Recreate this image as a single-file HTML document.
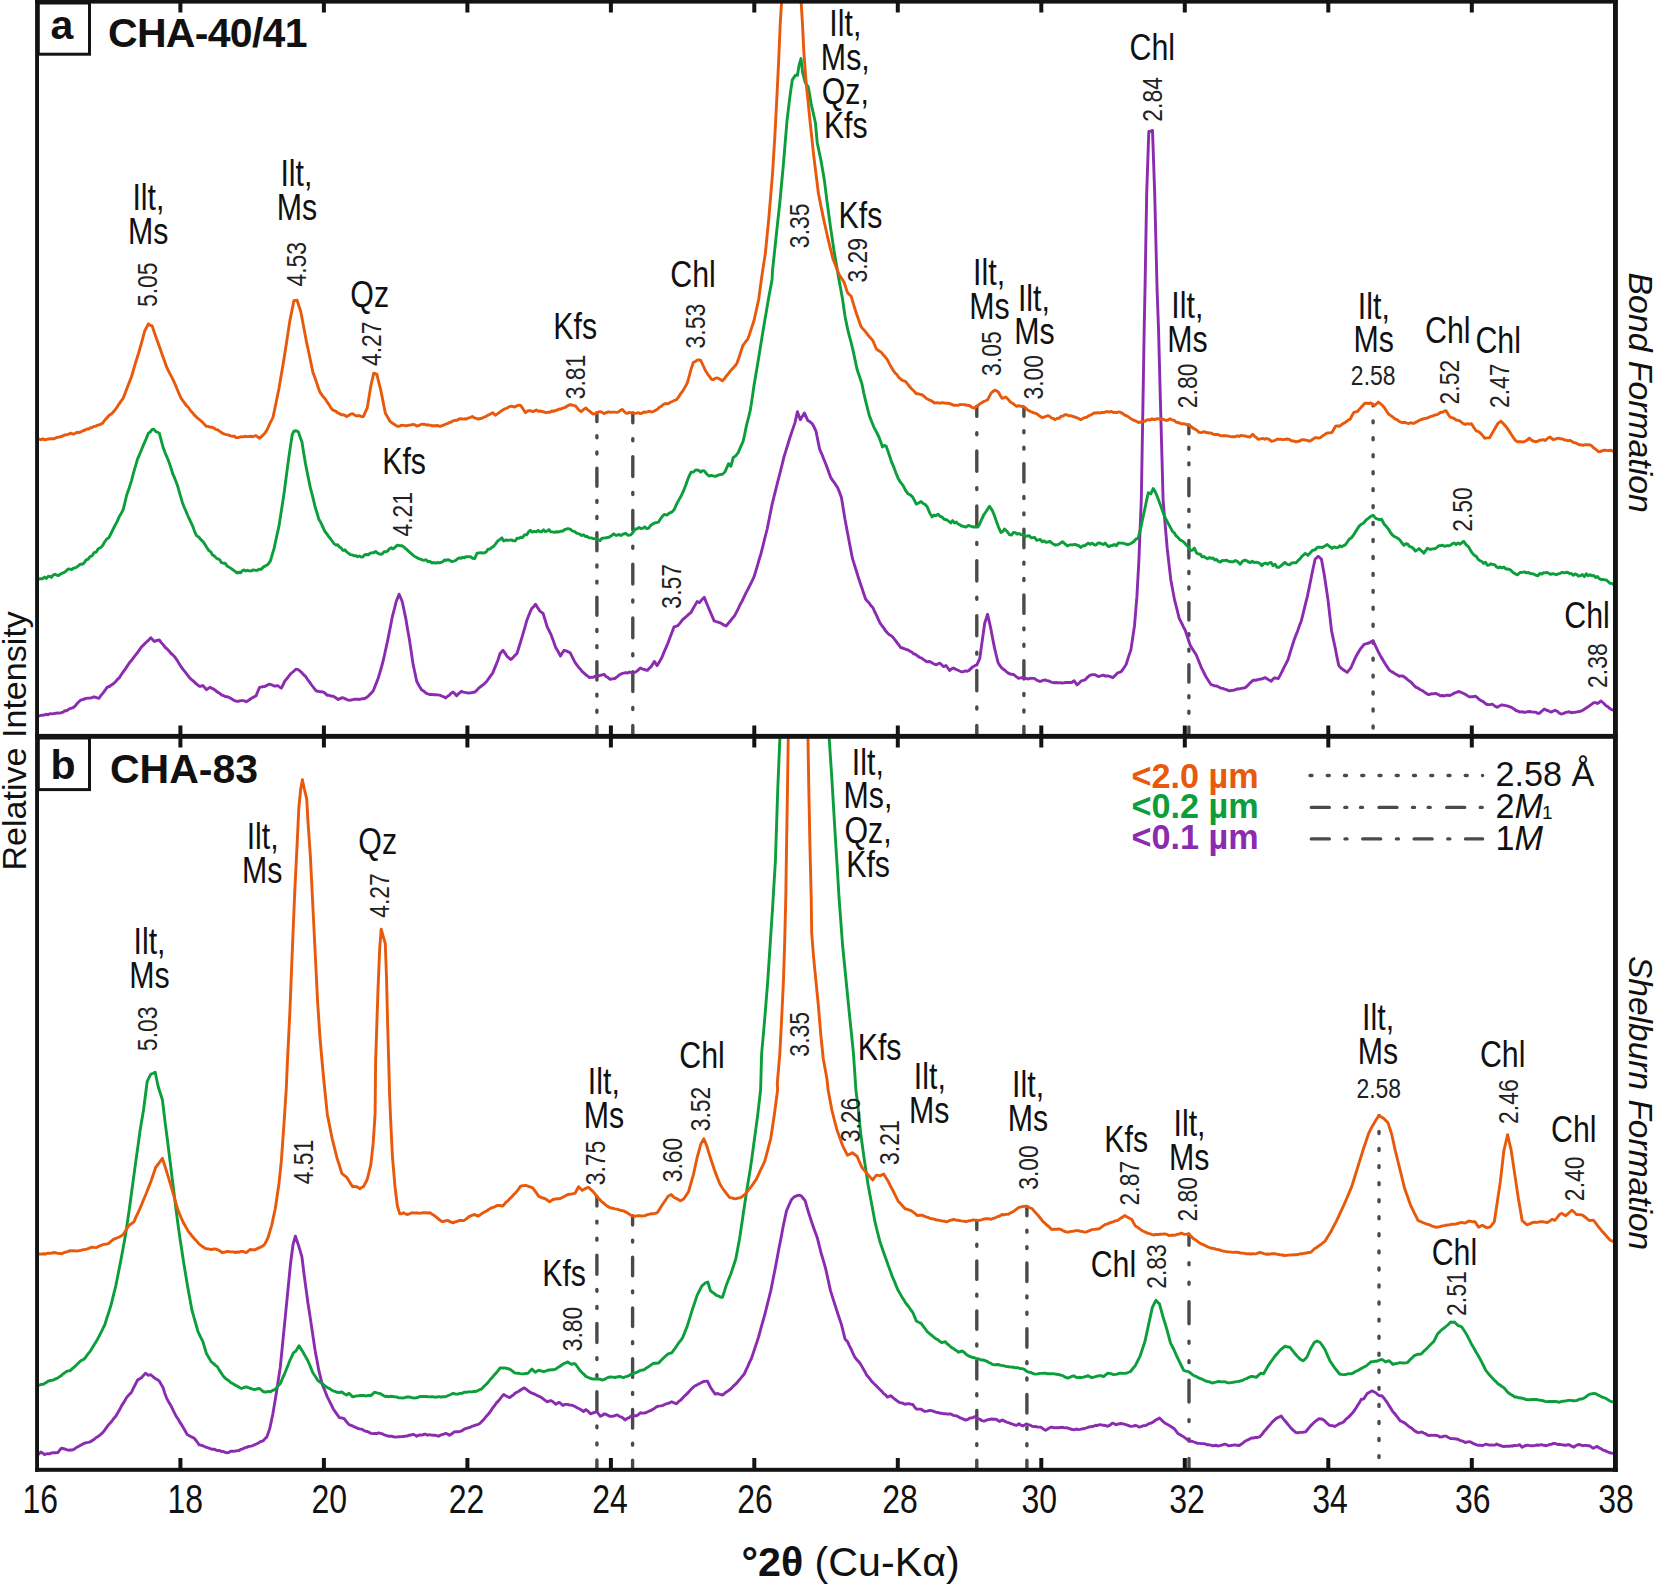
<!DOCTYPE html>
<html lang="en"><head><meta charset="utf-8"><title>XRD patterns CHA-40/41 and CHA-83</title>
<style>html,body{margin:0;padding:0;background:#fff}svg{display:block}text{font-family:"Liberation Sans",sans-serif;fill:#111}.n{font-size:37px}.d{font-size:28px;fill:#222}.t{font-size:41px}.c{fill:none;stroke-width:2.9;stroke-linejoin:round;stroke-linecap:round}.v{fill:none;stroke:#4a4a4a;stroke-width:3.4;stroke-linecap:round}</style></head><body>
<svg width="1655" height="1585" viewBox="0 0 1655 1585">
<rect x="0" y="0" width="1655" height="1585" fill="#fff"/>
<defs><clipPath id="pa"><rect x="37" y="0" width="1579" height="736.4"/></clipPath><clipPath id="pb"><rect x="37" y="736.4" width="1579" height="733.6"/></clipPath></defs>
<line class="v" x1="596.9" y1="412.6" x2="596.9" y2="735.5" stroke-dasharray="18.12 14.15 2.0 14.15 2.0 14.15" stroke-dashoffset="9.06"/>
<line class="v" x1="632.8" y1="412.9" x2="632.8" y2="735.5" stroke-dasharray="19.83 15.96 2.0 15.96" stroke-dashoffset="9.92"/>
<line class="v" x1="976.8" y1="406.3" x2="976.8" y2="735.5" stroke-dasharray="20.24 16.31 2.0 16.31" stroke-dashoffset="10.12"/>
<line class="v" x1="1023.9" y1="407.1" x2="1023.9" y2="735.5" stroke-dasharray="18.44 14.42 2.0 14.42 2.0 14.42" stroke-dashoffset="9.22"/>
<line class="v" x1="1188.9" y1="425.0" x2="1188.9" y2="735.5" stroke-dasharray="17.43 13.56 2.0 13.56 2.0 13.56" stroke-dashoffset="8.71"/>
<line class="v" x1="1373.1" y1="404.9" x2="1373.1" y2="735.5" stroke-dasharray="2 14.95" stroke-dashoffset="1.00"/>
<line class="v" x1="596.9" y1="1196.5" x2="596.9" y2="1469.5" stroke-dasharray="19.16 15.03 2.0 15.03 2.0 15.03" stroke-dashoffset="9.58"/>
<line class="v" x1="632.6" y1="1215.7" x2="632.6" y2="1469.5" stroke-dasharray="18.73 15.02 2.0 15.02" stroke-dashoffset="9.36"/>
<line class="v" x1="976.8" y1="1220.4" x2="976.8" y2="1469.5" stroke-dasharray="18.38 14.72 2.0 14.72" stroke-dashoffset="9.19"/>
<line class="v" x1="1026.9" y1="1206.5" x2="1026.9" y2="1469.5" stroke-dasharray="18.45 14.43 2.0 14.43 2.0 14.43" stroke-dashoffset="9.23"/>
<line class="v" x1="1189.0" y1="1234.3" x2="1189.0" y2="1469.5" stroke-dasharray="22.00 17.47 2.0 17.47 2.0 17.47" stroke-dashoffset="11.00"/>
<line class="v" x1="1379.0" y1="1115.4" x2="1379.0" y2="1469.5" stroke-dasharray="2 15.06" stroke-dashoffset="1.00"/>
<polyline class="c" clip-path="url(#pa)" stroke="#8a2bb0" points="37.3,716.8 39.7,715.7 42.1,715.2 44.0,715.1 46.0,714.2 47.9,714.8 49.8,713.8 51.8,713.9 53.7,713.6 55.6,713.3 57.6,712.9 59.5,713.1 61.4,712.7 63.1,712.1 64.9,710.8 66.6,710.7 68.3,709.6 70.1,708.6 71.8,708.2 73.5,707.4 75.3,705.8 77.1,703.5 78.9,701.8 80.8,700.0 82.6,699.6 84.4,699.0 86.2,698.4 88.0,698.1 90.0,698.1 92.0,697.6 94.0,696.8 96.5,697.7 98.9,698.3 101.0,695.4 103.1,692.9 105.2,690.1 107.3,687.2 109.4,686.5 111.4,684.9 113.4,683.7 115.4,681.9 117.4,679.5 119.4,677.6 121.2,674.8 123.1,672.0 124.9,669.7 126.7,666.9 128.5,664.2 130.3,661.7 132.1,659.7 133.9,657.1 135.7,654.8 137.6,652.5 139.4,649.9 141.2,647.3 143.6,644.9 146.0,642.5 148.4,640.4 150.8,637.7 152.7,639.7 154.5,641.5 156.9,640.4 159.3,640.0 161.3,642.6 163.3,644.9 165.3,647.5 167.3,649.1 169.2,651.2 171.1,653.5 173.1,655.1 175.0,657.2 177.0,660.1 179.0,663.4 181.1,666.7 183.2,669.6 185.3,672.2 187.4,674.9 189.5,677.7 191.5,679.6 193.4,681.0 195.3,683.0 197.3,684.6 199.2,686.2 201.0,686.2 202.8,685.5 204.6,687.5 206.4,689.7 208.2,688.4 210.1,687.3 212.1,688.4 214.1,689.4 216.1,691.0 217.9,692.4 219.7,693.3 221.5,694.8 223.4,695.6 225.2,696.6 227.0,696.7 228.8,697.3 230.6,698.3 233.0,699.7 235.4,701.1 237.3,701.3 239.1,701.2 240.9,700.6 242.7,700.6 244.5,700.9 246.3,701.8 248.3,700.6 250.3,699.0 252.4,697.8 254.2,696.7 256.0,695.9 257.8,691.5 259.6,687.4 262.0,686.8 264.4,686.6 266.9,685.4 269.3,684.1 271.7,684.8 274.1,686.0 275.9,686.0 277.7,685.6 279.5,686.9 281.4,688.1 283.2,684.5 285.0,680.7 287.0,678.5 289.0,675.9 291.0,673.5 293.4,671.5 295.9,669.2 297.7,669.4 299.5,670.6 301.5,672.3 303.5,674.6 305.5,676.4 307.5,679.3 309.6,682.1 311.6,685.0 314.0,688.2 316.4,691.0 318.2,691.3 320.0,691.7 321.8,691.7 323.7,692.3 325.5,693.6 327.3,695.4 329.3,695.2 331.3,696.1 333.3,696.3 335.7,697.7 338.2,699.5 340.0,698.6 341.8,697.7 343.6,698.0 345.4,698.8 347.2,699.8 349.0,700.2 350.8,700.1 352.7,699.6 354.5,699.3 356.3,699.3 358.1,699.1 359.9,699.5 361.7,698.7 363.5,698.8 366.0,697.8 368.4,696.1 370.8,693.5 373.2,691.0 375.6,684.9 378.0,678.8 380.5,670.5 382.9,662.0 385.3,651.2 387.7,640.2 390.1,628.2 392.5,616.0 394.4,608.8 396.2,601.5 399.1,594.2 402.2,601.5 404.0,610.1 405.8,618.4 407.6,629.4 409.5,640.1 411.3,652.2 413.1,664.4 414.9,672.8 416.7,681.2 419.1,685.7 421.5,689.7 424.0,691.3 426.4,693.3 428.2,694.0 430.0,694.7 431.9,694.3 433.9,694.8 435.8,694.8 437.7,694.9 439.7,695.1 441.7,696.0 443.7,696.8 445.7,697.9 447.5,696.4 449.3,695.2 451.1,693.2 453.0,692.1 454.8,693.7 456.6,695.8 459.0,693.3 461.4,691.3 463.2,692.1 465.0,692.4 466.9,692.9 468.7,693.0 470.7,692.9 472.7,692.3 474.7,692.2 476.7,690.4 478.7,688.1 480.8,686.5 482.8,685.0 484.8,683.3 486.8,681.3 488.8,678.4 490.8,675.6 492.8,672.9 495.3,666.6 497.7,660.7 500.1,653.5 503.0,650.3 505.2,653.4 507.3,656.7 509.2,658.2 511.0,659.5 513.0,657.6 515.0,655.3 517.0,653.5 519.4,645.7 521.8,637.8 524.3,629.4 526.7,620.8 529.1,614.6 531.5,608.8 533.6,606.7 535.6,604.3 537.8,607.9 540.0,611.2 543.1,613.5 545.2,620.2 547.2,626.9 549.0,630.5 550.8,634.1 553.3,640.8 555.7,647.5 558.1,651.5 560.5,656.0 562.3,652.9 564.1,650.3 566.2,650.9 568.2,651.9 570.2,652.8 572.6,657.6 575.0,662.3 576.8,664.8 578.6,667.2 580.5,669.4 582.3,671.6 584.1,673.2 585.9,674.8 587.7,676.1 589.5,677.6 591.3,677.3 593.1,677.4 595.0,676.3 596.8,676.4 598.6,675.9 600.4,675.3 602.2,674.8 604.0,674.3 606.0,676.4 608.0,677.6 610.1,679.4 612.5,678.8 614.9,678.5 617.3,676.6 619.7,674.6 621.7,673.7 623.8,673.2 625.8,672.7 627.7,673.0 629.6,672.0 631.6,672.7 633.5,672.6 635.4,672.2 637.9,670.3 640.3,668.0 642.1,668.8 643.9,669.4 645.7,670.0 647.5,670.4 649.3,668.3 651.1,666.7 654.3,661.4 657.2,665.6 659.6,661.5 662.0,657.2 664.0,652.1 666.1,647.4 668.1,642.7 670.1,637.2 672.1,632.0 674.1,626.9 675.9,626.3 677.7,625.7 680.2,622.9 682.6,619.6 684.7,617.8 686.8,616.1 688.9,614.1 691.0,612.5 693.0,608.8 695.1,605.1 697.1,601.6 699.5,602.6 701.9,599.7 704.3,597.2 706.1,602.0 707.9,606.3 710.0,611.2 712.0,615.9 714.0,620.8 716.0,621.5 718.0,622.2 720.0,622.8 722.0,623.8 724.1,625.2 726.1,626.0 728.2,623.5 730.3,621.0 732.4,618.3 734.5,615.9 736.5,612.1 738.4,608.4 740.3,604.2 742.3,600.7 744.2,596.6 746.1,592.6 748.1,589.0 750.0,585.1 751.9,581.4 753.9,577.2 755.7,571.4 757.5,565.3 759.3,559.0 761.1,553.2 763.1,545.1 765.1,537.0 767.2,529.0 769.6,516.7 772.0,504.8 774.0,496.7 776.0,488.7 778.0,480.6 780.1,472.6 782.1,464.6 784.1,456.4 786.1,450.1 788.1,443.5 790.1,437.0 792.5,429.9 795.0,422.6 797.4,411.7 800.3,419.7 802.4,416.3 804.4,412.9 807.6,420.2 810.0,421.8 812.4,423.9 814.2,427.3 816.0,431.1 817.8,440.1 819.6,449.1 821.7,453.8 823.7,459.0 825.7,463.7 828.1,470.2 830.5,477.0 832.3,480.0 834.1,482.3 836.0,485.2 837.8,487.9 839.6,492.6 841.4,497.5 843.2,508.3 845.0,519.3 846.8,528.9 848.6,538.6 850.5,548.4 852.3,557.9 854.3,564.4 856.3,570.8 858.3,577.3 860.1,582.8 861.9,588.0 863.7,593.5 865.6,599.0 867.4,601.3 869.2,603.0 871.0,605.7 872.8,607.5 874.6,611.5 876.4,615.2 878.2,619.2 880.1,623.1 881.9,625.6 883.7,627.9 885.5,630.7 887.3,632.8 889.3,634.8 891.3,635.8 893.4,637.8 895.2,640.1 897.0,642.7 898.8,644.7 900.6,647.5 902.4,648.0 904.2,648.6 906.0,649.6 907.9,649.8 909.8,651.2 911.7,652.0 913.7,653.8 915.6,654.4 917.5,656.0 919.5,657.3 921.4,658.0 923.3,659.4 925.3,660.7 927.2,661.9 929.1,661.5 930.9,662.1 932.7,663.3 934.5,664.2 936.3,664.8 938.2,663.7 940.0,663.2 941.8,665.0 943.6,666.6 946.0,665.5 947.8,668.0 949.6,670.5 951.5,668.8 953.3,668.0 955.4,669.1 957.5,670.0 959.6,671.0 961.7,671.9 963.5,671.6 965.3,670.9 967.2,671.2 969.0,670.4 970.8,668.6 972.6,666.9 974.8,665.7 976.9,664.9 979.8,658.3 982.3,640.2 984.7,623.2 987.6,614.3 990.7,628.1 992.5,637.7 994.4,647.4 996.2,655.0 998.0,662.4 999.8,665.4 1001.6,667.9 1003.4,669.2 1005.2,670.5 1007.0,672.2 1008.9,673.5 1011.3,674.3 1013.7,674.5 1016.1,676.6 1018.5,678.3 1020.9,677.8 1023.4,677.6 1025.8,678.3 1028.2,679.0 1030.2,678.3 1032.2,678.4 1034.2,678.4 1036.6,680.0 1039.1,681.3 1041.1,681.3 1043.1,680.3 1045.1,679.9 1046.9,680.6 1048.7,680.9 1050.5,681.8 1052.4,682.4 1054.3,682.7 1056.2,682.5 1058.2,682.9 1060.1,682.6 1062.0,683.0 1064.0,682.8 1065.9,682.5 1067.8,682.5 1069.8,682.5 1071.7,682.5 1074.1,680.7 1077.0,684.9 1079.2,683.1 1081.4,680.8 1083.2,680.4 1085.0,679.9 1087.4,677.3 1089.8,675.3 1092.2,674.6 1094.7,674.6 1096.5,675.5 1098.3,676.5 1100.7,675.9 1103.1,675.2 1105.5,676.0 1107.9,675.9 1110.4,676.7 1112.8,677.7 1115.2,675.4 1117.6,672.8 1119.4,672.3 1121.2,671.7 1123.7,668.2 1126.1,664.5 1128.5,656.9 1130.9,649.9 1132.7,637.7 1134.5,625.7 1136.9,596.7 1138.9,560.4 1140.3,524.2 1141.3,500.0 1143.0,400.8 1144.2,328.3 1145.2,280.0 1145.0,290.0 1146.7,193.4 1148.8,131.5 1150.7,131.3 1152.5,130.4 1154.7,193.4 1157.1,290.0 1158.5,328.3 1160.4,400.9 1162.4,473.4 1163.1,500.0 1164.7,519.3 1167.2,548.4 1169.0,564.1 1170.8,579.7 1172.6,589.4 1174.4,599.1 1176.8,608.6 1179.2,618.4 1181.3,622.4 1183.3,626.6 1185.3,630.5 1187.7,637.8 1190.1,645.0 1192.1,648.4 1194.1,651.6 1196.2,654.8 1198.6,660.7 1201.0,666.8 1203.4,671.7 1205.8,676.5 1208.2,680.3 1210.7,684.2 1212.7,685.2 1214.7,685.9 1216.7,686.0 1218.7,687.0 1220.7,688.1 1222.7,688.4 1224.6,689.1 1226.4,689.6 1228.2,690.5 1230.0,690.9 1231.8,690.4 1233.6,690.4 1235.4,689.6 1237.3,689.0 1239.4,688.8 1241.5,688.3 1243.6,688.1 1245.7,687.3 1247.5,685.7 1249.3,683.7 1251.1,682.2 1253.0,680.2 1255.0,680.2 1257.0,680.0 1259.0,679.3 1261.0,679.1 1263.0,678.5 1265.0,677.6 1267.1,678.7 1269.1,680.1 1271.1,681.2 1272.9,679.2 1274.7,677.8 1276.5,678.2 1278.3,678.5 1280.2,675.1 1282.0,671.6 1284.0,667.4 1286.0,663.6 1288.0,659.6 1290.0,653.0 1292.0,646.6 1294.0,640.2 1295.9,635.2 1297.7,630.7 1299.5,625.6 1301.3,620.9 1303.3,612.9 1305.3,604.7 1307.3,596.6 1309.8,584.7 1312.2,572.5 1315.1,559.2 1318.2,556.2 1321.4,559.1 1324.3,574.9 1326.1,587.0 1327.9,599.1 1329.7,614.7 1331.5,630.5 1333.3,639.1 1335.1,647.4 1336.9,656.6 1338.8,665.6 1340.6,667.6 1342.4,669.2 1344.8,670.8 1347.2,672.4 1349.0,670.1 1350.8,668.0 1353.3,662.4 1355.7,657.0 1358.1,652.8 1360.5,648.7 1362.3,646.7 1364.1,644.4 1366.6,643.7 1369.0,643.0 1371.0,641.8 1373.1,640.8 1376.2,647.4 1378.6,652.4 1381.1,657.1 1383.2,660.4 1385.3,664.0 1387.4,667.1 1389.5,670.3 1391.5,671.6 1393.4,672.6 1395.3,673.9 1397.3,675.1 1399.2,676.3 1401.0,675.9 1402.8,676.0 1404.6,677.2 1406.4,678.5 1408.2,680.2 1410.1,681.4 1412.1,683.3 1414.1,685.6 1416.1,687.4 1417.9,688.0 1419.7,689.4 1421.5,690.2 1423.4,691.3 1425.8,693.1 1428.2,694.6 1430.0,694.3 1431.8,693.6 1433.6,693.9 1435.4,693.3 1437.9,694.3 1440.3,695.7 1442.2,695.5 1444.1,696.0 1446.1,695.3 1448.0,695.2 1449.9,695.5 1452.4,694.3 1454.8,692.8 1456.6,692.4 1458.4,691.5 1460.8,692.2 1463.2,693.3 1465.2,694.2 1467.3,695.6 1469.3,696.9 1471.3,696.7 1473.3,696.7 1475.3,696.1 1477.3,697.7 1479.3,699.5 1481.4,700.7 1483.8,702.1 1486.2,704.3 1488.2,704.5 1490.2,704.6 1492.2,704.1 1494.7,705.9 1497.1,707.3 1499.5,706.0 1501.9,704.8 1503.9,705.3 1505.9,705.6 1507.9,706.1 1510.0,706.9 1512.0,707.7 1514.0,708.9 1516.0,710.5 1518.0,711.1 1520.0,712.1 1522.0,711.7 1523.9,712.3 1525.8,712.2 1527.8,711.7 1529.7,711.5 1531.6,711.9 1533.6,712.1 1535.5,712.1 1537.4,713.2 1539.4,713.3 1541.8,711.2 1544.2,709.0 1546.0,710.0 1547.8,710.6 1549.6,711.6 1551.5,712.1 1553.3,711.0 1555.1,710.3 1557.1,711.2 1559.1,713.0 1561.1,714.0 1563.1,713.6 1565.1,712.6 1567.2,712.1 1569.3,711.8 1571.4,712.7 1573.5,712.4 1575.6,712.2 1577.4,711.8 1579.2,711.6 1581.1,711.0 1582.9,710.2 1584.7,708.9 1586.5,707.8 1588.3,706.7 1590.1,705.3 1591.9,704.1 1593.7,702.6 1595.6,702.6 1597.4,703.5 1599.2,702.4 1601.0,701.0 1603.4,703.0 1605.8,705.5 1607.8,706.7 1609.9,708.6 1611.9,709.8 1613.9,710.1 1616.0,710.8"/>
<polyline class="c" clip-path="url(#pa)" stroke="#0b9e3a" points="37.3,580.4 39.1,578.8 40.9,578.6 42.7,578.7 44.5,577.1 46.2,578.4 48.0,576.5 49.7,576.3 51.4,577.4 53.1,575.1 54.9,574.2 56.6,575.0 58.5,575.6 60.5,574.0 62.4,573.1 64.3,572.4 66.3,570.8 68.1,568.9 69.9,569.1 71.7,569.5 73.5,568.2 75.9,567.6 78.3,565.9 80.3,564.2 82.2,564.3 84.1,563.0 86.1,559.8 88.0,559.3 90.0,556.6 92.0,555.9 94.0,552.7 96.2,552.1 98.3,548.7 100.4,547.7 102.5,545.7 104.6,542.0 106.7,539.2 108.9,537.6 111.0,533.5 113.0,529.4 115.0,525.5 117.0,521.9 119.0,517.1 121.0,513.8 123.1,509.9 124.9,502.6 126.7,495.0 129.1,488.3 131.5,480.6 133.5,472.9 135.5,466.2 137.6,458.8 139.6,454.3 141.6,449.5 143.6,444.6 146.0,439.1 148.4,433.2 150.2,432.1 152.0,429.7 153.7,429.1 155.6,431.4 157.5,432.3 159.3,433.2 161.1,439.8 162.9,446.7 165.3,453.3 167.8,459.0 170.2,465.6 172.6,473.4 175.0,478.9 177.4,485.2 179.8,493.7 182.3,502.2 184.1,507.1 185.9,511.0 187.7,515.5 189.5,519.4 191.3,523.2 193.1,527.1 195.0,532.6 196.8,536.0 198.8,537.0 200.8,539.6 202.8,541.4 204.8,544.2 206.8,547.5 208.9,550.6 210.7,551.8 212.5,555.0 214.3,555.9 216.1,557.9 217.9,558.9 219.7,559.7 221.5,562.7 223.4,563.2 225.2,563.3 227.0,565.9 228.8,566.9 230.6,568.1 233.0,569.8 235.4,571.6 237.2,573.0 238.9,572.1 240.6,572.8 242.3,570.7 244.1,569.9 245.8,571.0 247.5,570.3 249.5,571.0 251.4,570.9 253.3,569.9 255.3,570.3 257.2,570.4 259.3,569.1 261.4,569.3 263.5,566.8 265.6,565.9 268.1,564.2 270.5,560.6 272.3,554.3 274.1,548.4 276.5,537.1 278.9,526.4 281.4,510.6 283.8,495.1 286.2,477.0 288.6,458.9 290.4,446.6 292.2,434.7 293.9,431.1 296.1,430.7 298.3,431.8 300.1,437.0 301.9,441.7 303.7,453.0 305.5,463.7 307.9,475.9 310.4,487.9 312.8,497.1 315.2,507.2 317.0,512.8 318.8,519.2 320.8,522.6 322.8,526.9 324.9,531.5 326.7,533.7 328.5,536.3 330.3,538.5 332.1,541.0 333.9,543.5 335.7,545.0 337.6,544.7 339.4,547.0 341.2,548.0 343.0,550.5 344.8,549.8 346.6,551.9 348.4,553.1 350.2,554.6 352.1,554.9 353.9,555.7 355.7,555.6 357.5,556.7 359.3,556.0 361.1,557.0 362.9,556.9 364.7,554.7 366.6,554.5 368.4,554.8 370.2,553.2 372.0,552.8 373.8,552.8 375.6,551.5 378.0,553.4 380.5,554.3 382.3,553.8 384.1,551.7 385.9,551.8 387.7,551.0 389.5,548.7 391.3,547.7 393.1,549.0 395.0,547.4 397.4,545.1 399.8,545.7 402.2,545.8 404.6,547.7 406.6,549.4 408.7,551.3 410.7,553.1 412.7,554.8 414.7,556.5 416.7,557.5 418.5,558.6 420.3,559.0 422.1,559.9 424.0,560.2 426.0,559.8 428.0,561.8 430.0,561.4 431.8,563.0 433.6,562.5 435.4,563.2 437.3,562.5 439.1,562.9 440.9,562.3 442.7,561.8 444.5,560.0 446.3,560.3 448.1,559.6 449.9,560.5 451.8,561.6 453.6,561.1 455.4,560.7 457.2,559.2 459.0,557.8 460.8,558.4 462.6,557.3 464.4,557.8 466.3,556.6 468.4,556.7 470.5,556.8 472.6,558.2 474.7,558.5 477.1,553.2 478.9,552.9 480.8,552.7 482.6,553.0 484.4,552.9 486.2,552.0 488.0,549.2 489.8,549.1 491.6,547.6 493.4,546.5 495.3,544.4 497.7,541.0 500.1,539.4 501.9,537.9 503.7,540.9 505.5,540.0 507.3,540.3 509.4,540.1 511.4,539.9 513.4,540.9 515.2,540.9 517.0,538.2 518.8,538.4 520.6,537.3 522.6,537.5 524.7,534.6 526.7,534.9 528.5,532.1 530.3,530.2 532.3,532.1 534.3,531.4 536.3,531.8 538.2,530.5 540.0,531.7 541.8,531.7 543.6,529.8 545.4,531.7 547.2,531.0 549.0,529.6 550.8,531.9 552.7,531.9 554.5,532.4 556.3,531.7 558.1,532.0 560.5,531.3 562.9,531.0 565.3,529.3 567.8,528.7 570.2,529.2 572.6,531.1 574.4,531.4 576.2,532.9 578.0,533.6 579.8,534.1 581.7,535.5 583.5,534.7 585.3,536.5 587.1,536.3 589.1,537.9 591.1,537.9 593.1,538.6 595.6,538.7 598.0,539.9 600.0,540.5 602.0,538.2 604.0,538.1 606.4,537.7 608.9,537.3 611.3,535.8 613.7,533.8 615.5,535.2 617.3,535.3 619.1,534.4 620.9,535.5 623.4,534.0 625.8,533.5 628.2,535.4 630.6,534.9 633.0,532.4 635.4,529.0 637.3,528.8 639.1,527.5 640.9,528.5 642.7,528.3 644.7,526.8 646.7,528.6 648.7,528.2 650.5,525.5 652.4,524.2 654.4,523.0 656.4,522.6 658.4,522.2 660.4,518.9 662.4,516.3 664.4,514.4 666.9,515.1 669.3,513.2 671.7,512.2 674.1,509.8 676.5,504.4 678.9,499.9 681.4,495.5 683.8,490.2 685.6,485.5 687.4,480.4 689.2,476.0 691.0,472.3 693.4,472.0 695.9,469.9 698.3,470.2 700.7,472.2 702.5,470.7 704.3,470.9 706.7,474.0 709.2,476.1 711.2,475.4 713.2,475.8 715.2,476.5 717.6,475.4 720.0,474.5 722.4,474.3 724.9,472.0 726.7,467.9 728.5,463.7 730.9,466.3 733.3,457.5 735.7,455.9 738.2,452.7 740.6,446.9 743.0,441.7 744.8,433.7 746.6,424.9 748.4,418.1 750.2,410.7 752.1,398.6 753.9,386.2 755.7,375.4 757.5,364.7 759.3,353.8 761.1,342.8 762.9,331.8 764.7,321.1 766.6,309.9 768.4,299.3 770.2,289.6 772.0,279.9 772.5,270.7 774.3,254.0 776.1,236.8 777.9,220.2 779.8,203.0 781.6,183.5 783.4,164.3 785.2,142.5 787.0,120.8 789.9,96.7 792.3,79.8 795.5,75.2 797.4,75.4 799.1,65.1 801.0,58.6 802.7,72.6 805.1,82.2 808.3,87.1 811.2,103.8 813.4,113.8 815.5,123.2 817.2,142.5 819.0,151.3 820.8,159.4 822.7,170.5 824.5,181.1 826.9,200.6 828.7,213.9 830.5,227.1 832.3,239.1 834.1,251.2 836.0,262.2 837.8,273.0 839.0,279.9 840.8,289.4 842.6,299.5 845.0,316.2 846.8,325.1 848.6,333.2 851.1,342.4 853.5,352.4 855.3,361.1 857.1,369.5 859.5,376.5 861.9,383.7 863.7,392.6 865.6,400.8 867.4,408.0 869.2,415.2 871.6,421.4 874.0,427.4 876.4,431.9 878.9,437.0 880.7,441.8 882.5,446.9 884.3,445.5 886.1,446.1 887.9,451.1 889.7,456.3 891.5,461.9 893.4,466.2 895.8,472.6 898.2,478.4 900.6,482.4 903.0,485.3 905.4,490.1 907.9,493.7 910.3,494.9 912.7,497.1 914.5,500.6 916.3,504.1 918.7,503.0 921.1,501.5 923.2,503.5 925.2,504.5 927.2,506.9 929.6,512.6 932.0,516.9 934.0,515.2 936.1,515.5 938.1,514.2 940.1,516.3 942.1,517.1 944.1,519.3 946.5,519.7 948.9,521.4 950.8,523.0 952.6,520.6 954.4,523.0 956.2,521.9 958.0,523.9 959.8,524.7 961.6,526.0 963.4,526.3 965.9,527.1 968.3,525.5 970.7,526.1 973.1,527.0 975.5,526.8 977.9,527.0 979.8,523.8 981.6,519.5 984.0,514.5 986.4,511.0 989.5,506.2 992.4,510.6 994.3,515.3 996.1,520.5 998.5,527.1 1000.9,532.5 1002.7,531.5 1004.5,529.0 1006.9,531.2 1009.4,534.7 1011.4,535.1 1013.4,532.5 1015.4,532.7 1017.2,534.2 1019.0,533.5 1020.8,534.6 1022.7,534.7 1024.8,536.2 1026.9,536.2 1029.0,535.6 1031.1,537.8 1032.9,537.6 1034.7,537.4 1036.6,540.2 1038.4,539.9 1040.3,539.5 1042.2,541.8 1044.2,540.9 1046.1,542.3 1048.0,542.0 1050.0,541.4 1051.9,543.1 1053.8,544.4 1055.8,545.2 1057.7,544.7 1060.1,543.4 1062.5,541.7 1065.0,543.8 1067.4,545.9 1069.2,544.9 1071.0,544.9 1072.8,544.8 1074.6,544.4 1076.6,545.0 1078.7,545.7 1080.7,547.5 1082.7,545.8 1084.7,545.8 1086.7,544.2 1088.5,543.1 1090.3,544.4 1092.1,543.2 1094.0,544.7 1096.0,545.0 1098.0,543.0 1100.0,543.1 1101.7,543.9 1103.5,544.5 1105.2,543.1 1106.9,545.2 1108.6,546.6 1110.4,545.8 1112.1,545.6 1114.2,544.5 1116.3,545.8 1118.4,542.9 1120.5,543.1 1123.0,543.1 1125.4,544.0 1127.8,544.5 1130.2,543.8 1132.0,542.8 1133.8,541.5 1136.0,539.0 1138.2,538.4 1141.1,526.4 1142.9,517.8 1144.7,509.5 1146.5,500.8 1148.3,492.8 1150.8,493.9 1153.2,488.6 1155.0,491.4 1156.8,495.3 1159.2,501.8 1161.6,508.2 1164.0,515.0 1166.5,520.3 1168.5,524.0 1170.5,527.6 1172.5,531.4 1174.3,532.8 1176.1,535.9 1177.9,537.4 1179.8,539.7 1181.6,540.6 1183.4,541.8 1185.2,543.6 1187.0,545.7 1188.8,547.4 1190.6,550.6 1192.4,550.2 1194.3,548.1 1196.7,553.2 1198.5,554.0 1200.3,554.1 1202.1,556.9 1203.9,556.5 1205.7,557.7 1207.6,558.7 1209.4,557.4 1211.2,558.4 1213.0,558.0 1214.8,560.0 1216.6,559.5 1218.4,561.4 1220.4,562.0 1222.3,560.5 1224.2,560.6 1226.2,560.1 1228.1,561.1 1229.9,561.7 1231.7,561.6 1233.5,561.9 1235.3,560.4 1237.8,561.8 1240.2,564.3 1242.6,561.1 1245.0,560.1 1246.8,560.8 1248.6,562.0 1250.5,562.5 1252.3,561.3 1254.2,562.6 1256.1,562.1 1258.1,562.6 1260.0,563.5 1261.9,565.7 1263.7,563.7 1265.6,563.1 1267.4,564.2 1269.2,562.9 1271.1,562.5 1273.1,565.7 1275.0,564.2 1276.9,567.2 1278.9,567.3 1280.9,565.8 1282.9,564.1 1284.9,562.4 1287.3,564.3 1289.7,564.8 1291.8,562.9 1294.0,562.8 1296.1,562.8 1298.2,560.4 1300.0,558.8 1301.8,556.4 1303.6,554.8 1305.4,553.4 1307.9,555.4 1310.3,552.7 1312.7,550.2 1315.1,549.8 1317.5,547.2 1319.9,547.1 1322.4,547.5 1324.8,546.1 1327.2,544.5 1329.6,546.5 1332.0,548.4 1334.0,546.9 1336.1,547.6 1338.1,547.5 1339.9,545.7 1341.7,546.9 1343.5,545.6 1345.3,544.8 1347.3,542.0 1349.3,539.2 1351.4,537.7 1353.4,535.3 1355.4,531.9 1357.4,528.9 1359.4,525.9 1361.4,524.2 1363.4,523.2 1365.9,520.2 1368.3,518.4 1370.7,516.4 1373.1,515.2 1375.5,518.1 1377.9,519.2 1379.8,519.9 1381.6,519.2 1384.0,524.0 1386.4,526.6 1388.4,529.1 1390.4,532.5 1392.4,535.0 1394.5,536.7 1396.5,537.5 1398.5,538.8 1400.3,540.5 1402.1,543.3 1403.9,545.3 1405.7,543.8 1407.6,544.0 1409.4,546.3 1411.4,547.0 1413.4,548.5 1415.4,551.0 1417.2,549.9 1419.0,548.6 1421.5,550.8 1423.9,553.3 1425.7,550.6 1427.5,548.2 1429.5,549.3 1431.5,549.2 1433.5,548.8 1435.3,548.6 1437.2,547.2 1439.0,545.6 1440.8,545.5 1442.6,545.3 1444.4,546.3 1446.2,545.8 1448.0,545.8 1450.1,545.5 1452.1,543.8 1454.1,543.0 1456.1,544.5 1458.1,542.9 1460.1,544.2 1461.9,542.7 1463.7,541.3 1466.2,544.8 1468.6,546.9 1470.6,550.6 1472.6,553.5 1474.6,555.5 1476.4,556.4 1478.2,559.4 1480.1,560.7 1481.9,561.5 1483.7,563.4 1485.5,562.2 1487.3,565.2 1489.1,565.1 1490.9,563.8 1492.7,564.5 1494.6,564.6 1496.4,566.7 1498.2,567.9 1500.1,566.9 1501.9,567.9 1503.9,567.0 1505.9,569.1 1507.9,569.0 1510.4,569.8 1512.8,572.3 1515.2,573.8 1517.6,574.8 1520.0,572.5 1522.4,572.4 1524.5,571.9 1526.5,572.9 1528.5,572.5 1530.3,573.6 1532.1,573.7 1533.9,574.2 1535.7,575.1 1537.8,575.8 1539.8,573.5 1541.8,574.1 1543.6,572.6 1545.4,572.9 1547.2,572.4 1549.0,573.5 1550.8,574.4 1552.7,573.6 1554.5,574.2 1556.3,574.7 1558.2,573.9 1560.2,573.3 1562.1,572.3 1564.0,572.9 1566.0,572.5 1567.8,572.3 1569.6,573.7 1571.4,573.4 1573.2,575.3 1575.0,573.9 1576.8,574.6 1578.6,576.2 1580.5,575.7 1582.4,574.5 1584.3,576.6 1586.3,573.7 1588.2,575.8 1590.1,574.7 1591.9,575.9 1593.7,575.4 1595.6,577.5 1597.4,576.4 1599.2,578.6 1601.0,579.5 1602.8,579.5 1604.6,579.9 1606.4,580.0 1608.2,581.7 1610.1,583.3 1611.9,583.4 1613.9,584.8 1616.0,583.2"/>
<polyline class="c" clip-path="url(#pa)" stroke="#e8590c" points="37.3,439.5 39.1,439.0 41.0,439.7 42.9,438.9 44.8,439.9 46.6,439.4 48.5,439.0 50.4,438.8 52.3,438.8 54.2,438.8 55.9,437.8 57.6,437.2 59.3,437.1 61.1,436.5 62.8,436.0 64.5,435.0 66.3,434.8 68.0,434.3 69.7,433.6 71.4,433.3 73.2,434.2 74.9,433.6 76.6,432.4 78.3,432.5 80.1,432.2 81.8,431.4 83.5,430.5 85.2,430.0 87.0,428.9 88.7,429.1 90.4,427.7 92.1,427.6 93.9,426.4 95.6,426.3 97.3,425.2 99.1,424.9 100.8,424.1 102.5,423.3 104.9,420.0 107.3,417.4 109.2,415.3 111.0,414.3 112.8,412.5 114.6,410.3 116.7,407.7 118.8,404.3 120.9,401.4 123.1,398.4 125.2,392.9 127.3,387.4 129.4,381.9 131.5,376.7 133.3,370.5 135.1,364.4 136.9,358.4 138.8,352.5 140.8,345.4 142.8,338.1 144.8,330.7 146.6,327.4 148.4,323.9 150.2,325.3 152.1,325.9 154.1,331.8 156.1,337.4 158.1,342.9 160.2,348.7 162.3,355.1 164.4,360.8 166.6,367.0 168.7,371.3 170.8,375.4 172.9,379.4 175.0,384.0 177.0,388.7 179.0,393.6 181.1,398.3 183.0,400.8 184.9,403.5 186.8,406.0 188.7,407.8 190.6,410.8 192.5,412.7 194.4,415.2 196.1,416.7 197.8,418.4 199.5,419.7 201.3,421.1 203.0,422.7 204.7,424.6 206.4,426.4 208.2,426.4 210.1,427.3 211.9,427.2 213.7,428.0 215.6,429.3 217.6,429.8 219.5,431.1 221.4,432.6 223.4,433.7 225.2,434.3 227.0,434.7 228.8,435.1 230.6,435.9 232.4,436.4 234.2,436.0 236.0,437.6 237.9,437.5 239.7,437.1 241.5,436.8 243.3,436.9 245.1,436.3 246.9,436.6 248.7,436.5 250.5,436.2 252.4,436.8 254.2,436.2 256.0,435.7 257.8,437.1 259.6,438.2 261.6,436.4 263.6,434.6 265.6,432.2 267.5,429.0 269.3,424.7 271.1,421.2 272.9,417.7 274.9,408.2 276.9,398.5 278.9,388.8 281.0,376.6 283.0,364.7 285.0,352.5 287.4,336.9 289.8,321.1 291.9,310.7 293.9,300.6 297.1,300.3 298.9,306.0 300.7,311.3 302.7,321.8 304.7,332.4 306.7,342.9 308.8,352.5 310.8,362.2 312.8,371.9 314.6,376.8 316.4,382.0 318.2,387.5 320.0,392.3 322.4,395.7 324.9,398.4 326.7,401.3 328.5,403.8 330.3,406.8 332.1,409.4 333.9,410.5 335.7,411.1 337.6,412.9 339.4,413.5 341.2,414.8 343.0,414.6 344.8,415.3 346.6,416.6 348.6,415.4 350.6,414.2 352.7,413.7 354.5,414.9 356.3,415.9 358.1,415.7 359.9,415.8 361.7,416.7 363.5,416.5 365.3,412.1 367.2,408.2 369.0,397.2 370.8,386.3 373.7,373.1 376.8,374.2 378.6,381.6 380.5,388.8 382.9,400.9 385.3,413.0 387.7,417.3 390.1,421.4 391.9,422.8 393.7,424.0 395.6,425.3 397.4,426.3 399.3,426.3 401.2,425.4 403.2,425.3 405.1,425.7 407.0,425.7 409.1,425.1 411.1,425.0 413.1,424.3 414.9,424.8 416.7,426.1 418.5,425.7 420.3,424.7 422.1,424.3 424.0,424.2 426.0,425.0 428.0,424.8 430.0,425.2 431.9,425.8 433.9,425.8 435.8,425.8 437.7,425.5 439.7,426.3 441.6,426.0 443.5,425.1 445.5,424.2 447.4,423.6 449.3,422.6 451.3,422.0 453.2,420.8 455.1,420.3 457.1,420.2 459.0,419.0 460.8,418.7 462.6,419.2 464.4,418.8 466.3,419.1 468.3,417.9 470.3,417.6 472.3,416.5 474.3,417.9 476.3,418.4 478.3,419.1 480.2,418.5 482.0,418.3 483.8,417.2 485.6,416.7 487.4,415.4 489.2,414.8 491.0,413.6 492.8,412.8 495.3,415.2 497.7,413.6 500.1,411.8 502.0,410.4 504.0,409.2 505.9,408.5 507.8,407.7 509.8,406.4 512.2,406.3 514.6,407.1 516.6,406.0 518.6,405.2 520.6,405.4 523.1,409.0 525.5,412.6 527.3,411.1 529.1,410.6 530.9,410.7 532.7,411.6 534.5,411.0 536.3,409.9 538.3,411.2 540.2,411.0 542.1,411.5 544.1,412.0 546.0,412.7 547.9,412.1 549.9,412.3 551.8,411.0 553.7,411.4 555.7,410.4 557.5,410.0 559.3,408.9 561.1,409.0 562.9,407.9 564.9,407.6 567.0,406.3 569.0,405.0 571.0,404.7 573.0,405.4 575.0,405.6 577.0,407.8 579.0,410.1 581.1,411.7 583.5,409.6 585.9,407.9 587.7,409.9 589.5,411.1 591.3,412.7 593.1,414.0 595.2,413.6 597.2,412.9 599.2,411.6 601.6,412.0 604.0,413.6 606.4,412.5 608.9,411.8 610.8,412.3 612.7,412.1 614.7,412.1 616.6,412.4 618.5,412.0 620.3,410.5 622.1,409.4 624.0,411.2 625.8,413.0 627.6,413.3 629.4,412.4 631.2,412.9 633.0,412.7 634.8,413.4 636.6,413.1 638.5,412.7 640.3,413.6 642.1,413.1 643.9,412.0 645.7,412.2 647.5,411.9 649.3,411.2 651.1,412.0 653.6,411.3 656.0,410.1 657.8,409.0 659.6,407.0 661.4,406.3 663.2,404.5 665.6,403.5 668.1,403.9 670.2,402.4 672.3,401.5 674.4,400.5 676.5,399.7 678.5,397.2 680.6,393.7 682.6,391.3 685.0,387.1 687.4,382.7 689.2,376.1 691.0,369.4 693.4,362.3 695.3,361.7 697.1,360.2 698.9,359.8 700.7,360.4 703.1,365.5 705.5,370.7 707.5,373.8 709.6,376.6 711.6,379.4 713.6,379.5 715.6,378.1 717.6,378.0 720.0,379.3 722.4,380.9 724.3,378.8 726.1,376.3 727.9,374.2 729.7,371.9 731.5,369.7 733.3,367.9 735.1,365.8 736.9,363.3 739.0,357.5 741.0,351.2 743.0,345.3 745.4,342.0 747.8,339.1 749.8,333.4 751.9,326.9 753.9,321.0 756.3,310.3 758.7,299.3 761.6,277.9 763.4,265.9 765.3,253.8 767.1,235.6 768.9,217.5 770.7,195.7 772.5,174.0 774.9,135.4 776.9,96.7 778.8,58.0 780.2,24.2 781.7,0.0 782.5,-30.0 784.3,-30.1 786.1,-29.5 787.8,-29.5 789.6,-30.6 791.4,-29.3 793.2,-30.4 795.0,-30.6 796.7,-29.8 798.5,-29.3 800.3,-29.8 801.0,0.0 802.5,24.2 803.9,53.2 806.3,84.6 808.2,102.7 810.0,120.8 811.8,137.7 813.6,154.7 816.0,174.0 818.4,193.3 820.8,205.4 823.3,217.6 825.7,228.5 828.1,239.2 830.5,248.8 832.9,258.7 834.9,263.7 837.0,269.2 839.0,274.2 841.4,278.2 843.8,281.6 845.6,286.9 847.4,292.4 849.2,294.5 851.1,296.1 853.5,304.1 855.9,311.9 858.3,318.7 860.7,325.9 862.7,328.8 864.8,330.8 866.8,333.5 868.8,336.0 870.8,338.2 872.8,340.4 874.6,344.8 876.4,349.0 878.9,350.8 881.3,352.4 883.3,354.9 885.3,357.0 887.3,359.7 889.3,363.6 891.3,367.2 893.4,370.7 895.2,373.1 897.0,374.7 898.8,377.4 900.6,379.0 903.0,380.7 905.4,381.4 907.5,383.9 909.5,386.5 911.5,388.8 913.9,391.0 916.3,393.7 918.3,393.8 920.3,394.4 922.4,395.0 924.4,396.6 926.4,398.5 928.4,399.5 930.4,400.3 932.4,401.5 934.4,403.0 936.4,402.6 938.3,402.9 940.2,403.2 942.2,402.6 944.1,402.9 946.0,403.3 948.0,403.3 949.9,403.6 951.8,404.4 953.8,405.4 955.9,405.1 958.0,405.4 960.1,404.5 962.2,404.6 964.0,404.6 965.9,405.0 967.7,405.4 969.5,405.5 971.9,407.3 974.3,408.1 976.1,406.8 977.9,405.8 979.8,403.7 981.6,402.8 983.6,401.5 985.6,400.8 987.6,399.8 989.4,396.4 991.2,393.0 993.1,391.3 994.9,390.1 996.7,390.8 998.5,392.2 1000.3,395.6 1002.1,398.3 1003.9,397.9 1005.7,397.0 1008.2,399.4 1010.6,402.2 1012.6,403.2 1014.6,404.8 1016.6,406.3 1018.6,405.6 1020.6,406.4 1022.7,406.3 1024.7,407.4 1026.7,409.2 1028.7,410.6 1030.5,411.6 1032.3,412.1 1034.1,413.0 1036.0,413.4 1038.0,414.8 1040.0,416.2 1042.0,417.5 1044.0,417.2 1046.0,416.3 1048.0,415.7 1049.8,416.5 1051.7,418.1 1053.5,418.5 1055.3,419.7 1057.2,418.3 1059.2,418.2 1061.1,416.3 1063.0,416.0 1065.0,414.8 1066.8,414.8 1068.6,415.7 1070.4,415.7 1072.2,416.1 1074.3,416.9 1076.4,417.7 1078.5,418.4 1080.7,419.8 1082.7,418.5 1084.7,417.6 1086.7,417.3 1088.5,415.8 1090.3,415.1 1092.1,414.2 1094.0,413.0 1096.0,413.0 1098.0,412.6 1100.0,413.0 1101.9,412.5 1103.9,412.6 1105.8,411.7 1107.7,411.7 1109.7,412.0 1111.5,411.4 1113.3,412.6 1115.1,412.3 1116.9,412.7 1118.7,411.9 1120.5,412.4 1122.7,413.5 1124.8,415.1 1126.9,415.9 1129.0,417.3 1130.9,418.7 1132.9,419.8 1134.8,420.6 1136.7,421.4 1138.7,422.5 1140.6,422.0 1142.5,421.6 1144.5,421.4 1146.4,420.2 1148.3,419.6 1150.2,420.0 1152.0,418.8 1153.8,419.6 1155.6,419.3 1157.4,418.6 1159.2,419.0 1161.2,418.9 1163.2,419.2 1165.3,420.2 1167.7,420.2 1170.1,418.8 1172.0,419.9 1174.0,420.2 1175.9,422.0 1177.8,422.5 1179.8,423.0 1181.6,423.9 1183.4,423.7 1185.3,424.2 1187.1,424.8 1188.9,424.9 1191.0,426.5 1193.0,428.1 1195.0,429.1 1197.1,430.5 1199.1,432.4 1201.5,432.6 1203.9,431.7 1205.9,432.5 1207.8,432.7 1209.7,433.0 1211.7,433.3 1213.6,434.4 1215.5,434.5 1217.5,434.4 1219.4,435.2 1221.3,435.9 1223.3,435.7 1225.4,435.8 1227.5,435.9 1229.6,436.4 1231.7,436.8 1233.5,436.6 1235.3,436.8 1237.2,435.8 1239.0,436.5 1240.8,435.5 1242.6,435.6 1244.4,435.9 1246.2,436.2 1248.0,436.8 1249.8,437.1 1252.7,434.2 1254.6,436.3 1256.5,437.7 1258.3,439.4 1260.4,438.9 1262.5,438.4 1264.7,439.2 1266.8,438.5 1269.2,439.4 1271.6,441.3 1273.4,440.8 1275.2,440.4 1277.0,439.1 1278.9,439.2 1281.0,439.3 1283.1,439.7 1285.2,439.3 1287.3,439.0 1289.4,439.4 1291.5,440.9 1293.7,441.0 1295.8,441.9 1297.6,441.3 1299.4,441.2 1301.2,440.0 1303.0,439.6 1305.0,440.0 1307.0,440.4 1309.1,441.2 1311.1,440.5 1313.1,438.9 1315.1,437.8 1316.9,437.8 1318.7,438.1 1320.5,437.6 1322.4,436.0 1324.2,435.0 1326.0,433.5 1328.0,432.9 1330.0,432.7 1332.0,432.4 1333.8,429.3 1335.6,426.2 1337.5,425.8 1339.3,426.3 1341.1,425.1 1342.9,423.6 1344.7,422.7 1346.5,421.6 1348.3,420.0 1350.2,419.1 1352.0,415.5 1353.8,412.5 1355.6,411.9 1357.4,411.5 1359.2,409.5 1361.0,407.3 1362.8,405.7 1364.7,403.3 1366.7,403.3 1368.7,403.5 1370.7,403.0 1372.5,404.1 1374.3,405.8 1376.4,403.8 1378.4,402.1 1380.6,403.8 1382.8,405.8 1384.8,408.2 1386.8,411.5 1388.8,414.3 1390.8,415.6 1392.8,417.0 1394.9,418.9 1396.9,419.6 1398.9,421.2 1400.9,422.3 1402.9,422.5 1404.9,422.3 1406.9,423.1 1408.8,423.5 1410.6,422.7 1412.4,423.2 1414.2,423.2 1416.0,422.1 1417.8,421.3 1419.6,420.2 1421.5,419.5 1423.3,418.9 1425.1,418.4 1426.9,418.2 1428.7,417.4 1431.1,416.3 1433.5,415.6 1435.3,414.9 1437.2,414.6 1439.0,413.5 1440.8,412.2 1442.6,412.4 1444.3,411.1 1446.1,410.7 1449.2,416.0 1450.8,417.5 1452.6,417.8 1454.4,418.6 1456.2,420.1 1458.0,420.3 1459.8,420.9 1461.6,422.4 1463.5,423.7 1465.3,424.5 1467.3,423.6 1469.3,424.1 1471.3,423.6 1473.7,427.3 1476.1,430.8 1478.0,431.4 1479.8,432.4 1482.2,435.0 1484.6,438.2 1487.0,437.9 1489.4,437.9 1491.9,433.7 1494.3,429.7 1496.1,426.5 1497.9,423.4 1501.0,421.2 1502.8,423.0 1504.6,425.0 1506.4,427.1 1508.8,430.6 1511.2,434.3 1513.6,437.9 1516.0,441.1 1518.4,441.8 1520.9,441.8 1523.3,442.0 1525.7,441.0 1527.5,439.8 1529.3,438.2 1531.1,439.8 1532.9,441.0 1535.4,441.7 1537.8,441.3 1539.6,440.3 1541.4,440.0 1543.2,439.6 1545.0,440.6 1547.4,438.5 1549.9,436.9 1551.7,438.6 1553.5,439.7 1555.9,438.9 1558.3,438.2 1560.3,438.8 1562.4,438.9 1564.4,439.9 1566.2,440.2 1568.0,440.8 1569.8,440.3 1571.6,441.2 1573.6,442.5 1575.6,442.9 1577.7,444.0 1579.7,444.8 1581.7,445.0 1583.7,445.2 1585.7,444.7 1587.7,444.9 1589.7,444.8 1591.6,445.8 1593.4,447.6 1595.8,449.3 1598.2,451.5 1600.0,451.7 1601.8,450.9 1603.6,450.3 1605.5,450.3 1607.9,450.6 1610.3,450.3 1612.1,450.6 1613.8,451.7 1615.6,452.7"/>
<polyline class="c" clip-path="url(#pb)" stroke="#8a2bb0" points="37.3,1455.0 39.1,1453.8 40.9,1452.1 42.7,1453.2 44.5,1454.6 46.3,1453.9 48.1,1453.7 49.9,1453.8 51.8,1452.9 53.8,1452.6 55.8,1452.8 57.8,1452.6 59.6,1450.3 61.4,1448.3 63.8,1448.7 66.3,1449.7 68.3,1450.2 70.3,1450.0 72.3,1450.0 74.3,1449.2 76.3,1447.5 78.3,1446.6 80.2,1445.5 82.0,1444.5 83.8,1443.5 85.6,1442.9 88.0,1442.4 90.4,1441.8 92.2,1440.5 94.0,1439.5 95.9,1437.7 97.7,1436.8 100.1,1434.8 102.5,1432.8 104.3,1430.7 106.1,1428.2 107.9,1425.7 109.8,1423.4 111.8,1421.3 113.8,1418.4 115.8,1416.3 117.8,1412.8 119.8,1409.3 121.8,1405.4 124.3,1401.6 126.7,1397.4 129.1,1394.7 131.5,1392.2 133.5,1388.0 135.5,1384.1 137.6,1380.0 139.4,1378.9 141.2,1378.0 143.4,1375.6 145.5,1373.2 148.4,1375.3 150.8,1374.7 153.3,1377.0 155.7,1378.8 157.5,1379.7 159.3,1381.1 161.1,1384.3 162.9,1387.3 164.7,1392.9 166.6,1398.1 169.0,1402.6 171.4,1406.6 173.8,1411.7 176.2,1416.4 178.2,1419.3 180.3,1422.9 182.3,1425.9 184.7,1430.0 187.1,1434.4 188.9,1435.4 190.7,1436.5 192.5,1437.3 194.4,1438.4 196.8,1441.5 199.2,1444.9 201.0,1445.1 202.8,1445.8 204.6,1446.5 206.4,1447.3 208.4,1447.8 210.3,1448.6 212.2,1449.3 214.2,1449.1 216.1,1450.1 217.9,1450.6 219.7,1450.5 221.5,1451.5 223.4,1451.5 225.2,1452.4 227.0,1452.9 228.8,1452.4 230.6,1451.3 233.0,1451.3 235.4,1451.1 237.3,1450.6 239.1,1450.5 240.9,1449.3 242.7,1448.9 244.7,1447.7 246.7,1447.4 248.7,1446.4 250.5,1446.2 252.4,1445.8 254.4,1444.8 256.4,1444.0 258.4,1442.9 260.8,1441.5 263.2,1440.9 265.0,1438.7 266.9,1436.9 269.8,1428.4 272.9,1413.8 274.7,1403.1 276.5,1392.1 278.3,1380.1 280.2,1367.9 282.0,1349.8 283.8,1331.7 285.6,1313.6 287.4,1295.5 290.5,1264.0 293.0,1244.7 295.4,1236.2 298.3,1244.7 300.1,1250.7 301.9,1256.8 304.3,1276.1 306.1,1289.4 307.9,1302.7 309.8,1314.9 311.6,1326.9 313.4,1339.0 315.2,1351.0 317.0,1360.6 318.8,1370.4 320.6,1377.6 322.4,1384.9 324.9,1390.8 327.3,1396.9 329.3,1400.8 331.3,1404.9 333.3,1409.0 335.3,1411.9 337.4,1414.9 339.4,1417.6 341.8,1418.0 344.2,1418.6 346.6,1421.8 349.0,1424.7 351.0,1425.4 353.1,1426.2 355.1,1427.2 357.2,1428.1 359.3,1428.9 361.4,1429.1 363.5,1430.3 365.5,1431.2 367.4,1431.5 369.3,1432.6 371.3,1433.4 373.2,1433.6 375.0,1433.5 376.8,1433.7 378.6,1432.9 380.5,1433.3 382.3,1433.8 384.1,1434.8 385.9,1435.3 387.7,1436.0 389.6,1436.3 391.6,1436.1 393.5,1436.8 395.4,1437.1 397.4,1436.9 399.3,1436.7 401.2,1436.6 403.2,1436.5 405.1,1436.1 407.0,1436.1 409.1,1435.2 411.1,1435.0 413.1,1434.3 414.9,1435.0 416.7,1436.2 418.5,1435.3 420.3,1435.0 422.1,1435.1 424.0,1434.3 425.8,1434.2 427.6,1435.2 429.4,1434.6 431.2,1435.1 433.0,1435.2 434.8,1435.2 436.6,1435.7 438.5,1436.2 440.3,1435.2 442.1,1434.6 443.9,1434.2 445.7,1433.2 447.5,1434.0 449.3,1435.2 451.8,1433.9 454.2,1431.9 456.2,1431.8 458.2,1431.8 460.2,1431.3 462.2,1430.7 464.2,1429.1 466.3,1428.3 468.1,1427.8 469.9,1427.4 471.7,1426.4 473.5,1425.9 475.5,1425.1 477.5,1424.7 479.5,1423.7 482.0,1421.3 484.4,1418.7 486.4,1416.2 488.4,1414.0 490.4,1411.5 492.4,1408.4 494.5,1405.6 496.5,1402.9 498.3,1401.1 500.1,1398.9 501.9,1396.5 503.7,1394.6 505.7,1395.7 507.7,1396.8 509.8,1397.5 511.6,1396.1 513.4,1395.0 515.2,1393.1 517.0,1392.2 518.8,1391.3 520.6,1390.0 522.4,1388.9 524.3,1387.9 526.7,1389.7 529.1,1391.6 530.9,1392.7 532.7,1393.3 534.5,1394.1 536.3,1395.0 538.4,1396.1 540.4,1396.9 542.4,1398.2 544.8,1400.1 547.2,1401.8 549.0,1401.1 550.8,1400.6 553.3,1402.0 555.7,1404.2 557.5,1403.2 559.3,1402.4 561.1,1403.8 562.9,1405.3 565.3,1404.4 567.8,1404.4 569.6,1405.1 571.4,1405.1 573.2,1405.7 575.0,1406.5 577.1,1407.8 579.2,1408.8 581.4,1410.0 583.5,1411.5 585.9,1409.6 588.3,1411.4 590.7,1413.9 592.7,1413.0 594.8,1412.3 596.8,1411.6 598.6,1414.0 600.4,1416.3 602.2,1415.4 604.0,1414.0 606.0,1414.3 608.0,1415.4 610.1,1416.4 611.9,1416.3 613.7,1416.1 615.5,1415.4 617.3,1414.9 619.7,1416.5 622.1,1417.4 625.3,1420.0 627.1,1418.4 628.8,1417.8 630.6,1416.3 632.6,1416.1 634.6,1415.8 636.6,1415.7 638.5,1414.5 640.3,1412.8 642.3,1413.1 644.3,1413.1 646.3,1412.5 648.3,1411.5 650.3,1410.7 652.4,1409.6 654.4,1408.4 656.4,1406.9 658.4,1406.1 660.8,1405.9 663.2,1405.3 665.2,1404.2 667.3,1403.6 669.3,1403.0 671.7,1401.8 674.1,1402.9 676.5,1403.8 678.5,1401.7 680.6,1400.1 682.6,1398.1 684.6,1396.0 686.6,1394.1 688.6,1392.1 690.6,1389.8 692.6,1387.9 694.7,1386.0 696.7,1385.1 698.7,1384.0 700.7,1383.0 702.5,1382.0 704.3,1381.4 707.5,1381.1 710.4,1387.2 712.8,1390.7 715.2,1394.1 717.6,1393.5 720.0,1394.4 722.4,1395.0 724.3,1393.7 726.1,1392.2 727.9,1391.1 729.7,1389.8 731.5,1388.2 733.3,1386.2 735.1,1384.6 736.9,1382.9 738.8,1380.5 740.6,1378.4 742.4,1376.2 744.2,1374.1 746.0,1370.1 747.8,1366.3 749.6,1362.2 751.5,1358.3 753.3,1352.9 755.1,1347.4 756.9,1342.1 758.7,1336.5 760.7,1329.2 762.7,1322.0 764.7,1314.8 766.8,1306.6 768.8,1298.5 770.8,1290.6 773.2,1278.5 775.6,1266.4 777.4,1256.7 779.2,1247.1 781.1,1237.6 782.9,1227.8 784.7,1219.3 786.5,1210.9 788.9,1205.3 791.3,1200.0 793.1,1197.9 795.0,1196.4 795.5,1196.3 797.9,1195.3 799.7,1195.4 801.5,1196.2 803.3,1198.5 805.1,1200.7 806.9,1207.0 808.8,1213.3 810.6,1218.7 812.4,1224.2 814.8,1230.9 817.2,1237.4 819.0,1244.7 820.8,1252.0 823.3,1260.3 825.7,1268.9 828.1,1279.7 830.5,1290.6 832.5,1297.2 834.5,1303.4 836.6,1310.0 839.0,1317.2 841.4,1324.4 843.2,1331.6 845.0,1338.9 847.4,1341.4 849.2,1345.4 851.1,1349.0 852.9,1353.2 854.7,1357.0 856.7,1359.6 858.7,1361.6 860.7,1364.4 862.7,1367.9 864.8,1371.4 866.8,1375.3 868.8,1377.4 870.8,1380.2 872.8,1382.5 874.6,1384.2 876.4,1385.9 878.2,1387.8 880.1,1389.7 881.9,1391.4 883.7,1393.6 885.5,1394.8 887.3,1397.0 889.1,1396.4 890.9,1395.7 892.7,1397.4 894.6,1399.0 896.4,1400.3 898.2,1401.7 900.0,1402.6 901.8,1402.9 903.6,1403.7 905.4,1404.3 907.3,1403.7 909.1,1403.7 910.9,1404.4 912.7,1404.4 914.5,1406.9 916.3,1409.0 918.7,1409.1 921.1,1409.1 923.0,1410.5 924.8,1411.4 927.2,1411.1 929.6,1410.3 931.4,1410.7 933.2,1411.1 935.0,1411.8 936.9,1412.5 938.7,1412.6 940.5,1413.4 942.3,1413.3 944.1,1413.8 945.9,1413.8 947.7,1414.2 949.5,1413.8 951.4,1414.2 953.2,1415.4 955.0,1415.6 956.8,1416.0 958.6,1416.9 960.4,1417.9 962.2,1418.6 964.0,1419.5 965.9,1420.0 968.0,1419.3 970.1,1418.0 972.2,1417.9 974.3,1416.7 976.1,1417.5 977.9,1418.7 980.0,1419.3 982.0,1420.7 984.0,1421.2 986.0,1420.3 988.0,1419.7 990.0,1419.3 992.0,1419.0 994.1,1419.2 996.1,1419.2 997.9,1420.5 999.7,1421.5 1002.1,1419.9 1004.5,1421.1 1006.9,1422.3 1008.9,1422.7 1010.8,1423.6 1012.7,1424.2 1014.7,1425.0 1016.6,1425.4 1019.0,1423.7 1020.8,1425.1 1022.7,1425.8 1024.5,1425.1 1026.3,1423.9 1028.1,1424.8 1029.9,1425.1 1031.7,1426.1 1033.5,1426.6 1035.3,1426.4 1037.2,1427.0 1039.0,1427.1 1040.8,1427.1 1043.2,1428.9 1045.6,1430.2 1047.4,1429.2 1049.2,1428.0 1050.8,1427.2 1052.6,1427.3 1054.4,1427.8 1056.2,1427.7 1058.0,1427.7 1060.4,1427.5 1062.8,1427.3 1064.8,1427.9 1066.7,1427.7 1068.6,1428.4 1070.6,1429.0 1072.5,1429.5 1074.4,1429.7 1076.4,1429.0 1078.3,1429.6 1080.2,1429.4 1082.2,1428.8 1084.1,1428.7 1086.0,1428.0 1088.0,1427.3 1089.9,1426.7 1091.8,1426.5 1093.8,1426.2 1095.7,1425.3 1097.6,1425.5 1099.6,1424.7 1101.5,1424.9 1103.5,1425.3 1105.5,1425.5 1107.6,1426.3 1110.0,1425.1 1112.4,1423.2 1114.2,1423.7 1116.0,1424.7 1118.4,1424.0 1120.8,1423.5 1123.3,1423.9 1125.7,1424.6 1128.1,1425.4 1130.5,1426.4 1132.9,1426.1 1135.3,1425.5 1137.2,1425.9 1139.0,1427.1 1141.0,1426.7 1143.0,1425.8 1145.0,1425.6 1147.0,1424.8 1149.0,1423.7 1151.1,1423.1 1153.5,1421.8 1155.9,1419.8 1157.7,1419.2 1159.5,1418.0 1161.3,1419.8 1163.1,1421.6 1165.2,1423.2 1167.2,1424.3 1169.2,1425.4 1171.6,1427.0 1174.0,1428.4 1175.8,1430.7 1177.6,1433.2 1179.7,1434.4 1181.7,1435.8 1183.7,1436.8 1186.1,1438.6 1188.5,1440.5 1190.3,1441.3 1192.1,1441.3 1194.0,1442.0 1195.8,1442.7 1197.7,1443.4 1199.6,1443.4 1201.6,1443.6 1203.5,1443.6 1205.4,1444.0 1207.3,1444.8 1209.1,1444.8 1210.9,1445.2 1212.7,1445.9 1214.5,1445.5 1216.3,1445.3 1218.1,1446.1 1219.9,1445.6 1222.4,1444.8 1224.8,1444.2 1226.6,1444.6 1228.4,1445.8 1230.4,1445.6 1232.4,1445.3 1234.4,1444.9 1236.9,1445.2 1239.3,1445.5 1241.1,1444.3 1242.9,1443.1 1244.7,1441.5 1246.5,1440.5 1248.9,1439.4 1251.4,1437.9 1253.5,1438.0 1255.6,1437.3 1257.7,1437.5 1259.8,1436.7 1261.8,1434.6 1263.8,1431.8 1265.9,1429.5 1267.9,1427.0 1269.9,1425.0 1271.9,1422.3 1274.3,1420.2 1276.7,1418.1 1278.9,1417.2 1281.1,1415.9 1283.1,1418.6 1285.2,1421.0 1287.2,1423.5 1289.2,1425.9 1291.2,1428.4 1293.7,1430.6 1296.1,1432.6 1298.0,1432.8 1299.9,1432.4 1301.9,1432.4 1303.8,1432.1 1305.7,1431.8 1308.2,1428.8 1310.6,1425.9 1313.0,1423.5 1315.4,1421.2 1317.2,1420.1 1319.0,1418.7 1320.8,1419.0 1322.7,1419.3 1324.7,1420.8 1326.7,1422.9 1328.7,1424.8 1330.7,1425.6 1332.7,1425.7 1334.7,1426.5 1337.2,1425.1 1339.6,1423.5 1342.0,1422.9 1344.0,1421.5 1346.0,1419.1 1348.0,1417.6 1350.5,1415.1 1352.9,1412.6 1355.3,1409.2 1357.7,1405.3 1359.5,1402.4 1361.3,1399.3 1363.7,1399.1 1365.6,1396.0 1367.4,1393.3 1369.5,1392.4 1371.7,1390.9 1373.8,1391.7 1375.8,1392.7 1378.2,1395.0 1380.1,1395.8 1381.9,1395.7 1384.3,1398.5 1386.7,1401.8 1388.7,1405.1 1390.7,1408.1 1392.7,1411.5 1394.6,1413.5 1396.4,1415.8 1398.2,1418.2 1400.0,1420.6 1402.4,1421.8 1404.8,1423.1 1407.3,1425.2 1409.7,1427.1 1411.8,1428.3 1413.9,1430.2 1416.0,1431.7 1418.1,1432.6 1420.0,1432.4 1421.8,1431.9 1423.6,1433.0 1425.4,1433.7 1427.2,1434.9 1429.0,1435.6 1431.0,1435.2 1433.0,1435.4 1435.1,1435.2 1437.5,1435.6 1439.9,1437.0 1441.9,1436.9 1443.9,1436.1 1445.9,1436.1 1448.4,1437.5 1450.8,1438.6 1452.6,1438.6 1454.4,1438.8 1456.2,1439.0 1458.0,1439.3 1459.8,1440.3 1461.6,1440.8 1463.5,1441.4 1465.3,1442.5 1467.7,1441.9 1470.1,1441.7 1472.5,1443.1 1474.9,1444.2 1476.8,1444.9 1478.6,1445.3 1480.4,1445.2 1482.2,1445.7 1484.0,1445.0 1485.8,1444.2 1487.6,1444.6 1489.4,1445.1 1491.3,1445.0 1493.1,1445.1 1494.9,1445.0 1496.7,1443.9 1498.5,1444.9 1500.3,1445.5 1502.1,1446.1 1503.9,1446.7 1505.7,1446.2 1507.4,1446.3 1509.1,1446.2 1510.8,1446.0 1512.6,1446.0 1514.3,1445.5 1516.0,1445.6 1517.8,1445.4 1519.7,1444.7 1522.1,1447.3 1524.5,1446.0 1526.9,1445.2 1528.9,1445.4 1530.9,1445.8 1532.9,1445.7 1535.1,1445.4 1537.2,1445.0 1539.3,1445.2 1541.4,1444.7 1543.8,1445.3 1546.2,1445.7 1548.1,1445.1 1549.9,1444.4 1551.7,1444.2 1553.5,1443.4 1555.6,1443.6 1557.7,1444.5 1559.8,1444.3 1561.9,1444.7 1563.8,1445.0 1565.6,1445.3 1567.4,1444.8 1569.2,1444.7 1571.6,1446.2 1574.0,1447.2 1575.8,1445.7 1577.7,1444.8 1579.4,1444.5 1581.1,1445.2 1582.8,1445.7 1584.6,1445.4 1586.3,1445.4 1588.0,1445.8 1589.7,1445.8 1591.6,1447.2 1593.4,1448.2 1595.2,1447.3 1597.0,1446.4 1599.0,1447.8 1601.0,1448.6 1603.0,1450.2 1605.1,1450.6 1607.1,1451.6 1609.1,1452.5 1611.3,1453.1 1613.4,1453.3 1615.6,1453.9"/>
<polyline class="c" clip-path="url(#pb)" stroke="#0b9e3a" points="37.3,1385.3 39.3,1385.1 41.3,1384.4 43.3,1384.3 45.7,1382.8 48.1,1381.2 50.5,1380.5 53.0,1380.1 55.0,1379.1 57.0,1378.4 59.0,1377.1 60.8,1376.0 62.6,1374.2 64.4,1373.1 66.3,1371.6 68.1,1370.9 69.9,1370.9 72.3,1368.6 74.7,1366.7 76.7,1364.7 78.7,1362.8 80.8,1360.7 82.6,1360.0 84.4,1358.8 86.4,1356.1 88.4,1353.4 90.4,1351.1 92.2,1348.1 94.0,1345.0 95.9,1341.9 97.7,1338.9 99.5,1335.4 101.3,1331.8 103.1,1328.1 104.9,1324.5 106.9,1318.0 109.0,1311.6 111.0,1305.2 113.4,1295.4 115.8,1285.8 118.2,1273.7 120.6,1261.6 123.1,1248.3 125.5,1235.0 127.3,1222.9 129.1,1210.8 130.9,1197.5 132.7,1184.2 134.5,1170.9 136.3,1157.7 138.2,1144.4 140.0,1131.1 141.8,1120.2 143.6,1109.4 145.4,1095.5 147.2,1081.5 149.0,1077.6 150.8,1074.3 153.0,1073.3 155.2,1072.2 158.1,1086.3 159.3,1090.0 162.4,1099.7 165.3,1123.8 167.2,1138.3 169.0,1152.8 170.8,1167.3 172.6,1181.9 174.4,1196.3 176.2,1210.9 178.0,1224.2 179.8,1237.4 181.7,1249.5 183.5,1261.6 185.3,1272.4 187.1,1283.4 189.5,1296.7 191.9,1310.0 193.9,1317.1 196.0,1324.5 198.0,1331.7 200.4,1336.6 202.8,1341.3 204.6,1347.3 206.4,1353.5 208.9,1357.7 211.3,1361.9 213.3,1363.4 215.3,1365.2 217.3,1366.6 219.3,1370.1 221.3,1373.1 223.4,1376.3 225.2,1378.1 227.0,1379.6 228.8,1380.7 230.6,1382.4 233.0,1383.7 235.4,1385.3 237.5,1386.2 239.5,1387.5 241.5,1388.5 243.9,1387.5 246.3,1386.9 248.4,1387.7 250.5,1388.4 252.7,1389.2 254.8,1389.6 257.2,1388.8 259.6,1388.5 261.4,1390.0 263.2,1391.6 265.0,1392.0 266.9,1391.9 268.7,1391.3 270.5,1391.7 272.9,1390.3 275.3,1389.3 277.7,1386.2 280.2,1383.7 282.6,1378.1 285.0,1372.8 287.4,1366.7 289.8,1360.7 291.6,1356.9 293.4,1352.9 295.9,1351.0 299.0,1345.8 301.1,1349.1 303.1,1352.2 305.5,1356.6 307.9,1360.7 310.4,1366.7 312.8,1372.8 315.2,1376.3 317.6,1380.1 319.6,1381.9 321.6,1383.3 323.7,1384.8 325.5,1386.3 327.3,1387.6 329.1,1388.3 330.9,1389.6 332.9,1390.8 334.9,1391.3 336.9,1392.2 339.4,1392.5 341.8,1392.0 344.2,1393.7 346.6,1395.0 349.0,1393.3 350.8,1395.0 352.7,1396.9 354.7,1396.3 356.7,1395.9 358.7,1395.8 360.4,1395.5 362.2,1395.5 363.9,1395.4 365.6,1396.0 367.3,1395.6 369.1,1395.3 370.8,1395.7 372.6,1394.1 374.4,1392.1 376.8,1392.8 379.2,1393.3 381.3,1394.2 383.3,1395.5 385.3,1396.5 387.1,1396.2 388.9,1396.8 390.7,1396.2 392.5,1396.5 394.5,1396.8 396.4,1396.9 398.3,1397.7 400.3,1397.9 402.2,1398.0 404.6,1397.7 407.0,1397.0 408.9,1397.0 410.7,1397.3 412.5,1397.9 414.3,1398.0 416.1,1397.8 417.9,1397.5 419.7,1396.5 421.5,1396.4 423.7,1396.5 425.8,1396.5 427.9,1396.7 430.0,1396.9 431.8,1396.6 433.6,1396.9 435.4,1397.2 437.3,1396.9 439.1,1396.6 440.9,1397.2 442.7,1396.6 444.5,1396.8 446.6,1396.3 448.7,1395.3 450.8,1394.5 453.0,1393.4 455.4,1394.0 457.8,1394.1 459.9,1393.4 462.0,1393.4 464.1,1392.3 466.3,1392.3 468.2,1391.8 470.1,1391.9 472.1,1391.9 474.0,1391.4 475.9,1391.5 477.9,1390.5 479.9,1389.7 482.0,1388.6 484.0,1386.3 486.0,1384.5 488.0,1382.4 490.0,1379.8 492.0,1377.8 494.0,1375.2 496.1,1373.0 498.1,1370.6 500.1,1368.0 502.5,1368.0 504.9,1367.9 507.3,1368.5 509.8,1369.2 512.2,1370.9 514.6,1372.8 516.4,1373.2 518.2,1373.1 520.0,1373.6 521.8,1373.9 523.9,1373.8 525.9,1373.5 527.9,1373.4 529.9,1371.1 532.0,1369.1 535.1,1372.3 536.9,1371.3 538.8,1370.3 541.2,1370.9 543.6,1371.7 545.6,1371.2 547.6,1370.3 549.6,1370.0 551.7,1369.8 553.7,1369.7 555.7,1369.2 557.7,1367.6 559.7,1366.5 561.7,1365.0 563.7,1363.7 565.8,1362.9 567.8,1361.9 569.6,1363.2 571.4,1364.3 573.2,1363.8 575.0,1363.7 577.4,1366.8 579.8,1370.3 581.9,1372.6 583.9,1374.2 585.9,1376.4 587.9,1377.3 589.9,1378.1 591.9,1378.9 593.9,1379.0 596.0,1379.1 598.0,1379.0 600.4,1379.3 602.8,1380.0 604.8,1379.2 606.8,1378.0 608.9,1377.2 610.9,1377.0 612.9,1377.1 614.9,1377.5 617.3,1376.9 619.7,1376.5 621.5,1377.0 623.4,1377.7 625.2,1376.8 627.0,1376.4 628.8,1375.7 630.6,1374.6 632.4,1373.7 634.2,1373.1 636.0,1372.6 637.9,1371.7 639.7,1370.7 641.5,1370.1 643.3,1370.0 645.1,1369.0 647.2,1367.4 649.3,1366.2 651.5,1364.6 653.6,1363.1 656.0,1363.3 658.4,1363.1 660.8,1360.8 663.2,1358.2 665.6,1356.0 668.1,1353.9 669.9,1353.4 671.7,1352.9 674.1,1349.7 676.5,1346.2 678.5,1343.2 680.6,1340.6 682.6,1337.7 685.0,1331.7 687.4,1325.7 689.8,1317.8 692.2,1310.0 694.7,1302.6 697.1,1295.4 699.5,1290.7 701.9,1285.8 703.7,1284.4 705.5,1282.9 707.9,1282.1 710.4,1290.6 712.4,1292.3 714.4,1293.6 716.4,1295.4 718.4,1295.9 720.4,1297.1 722.4,1297.3 724.3,1291.7 726.1,1285.8 728.5,1279.6 730.9,1273.7 733.3,1266.5 735.7,1259.2 737.6,1249.4 739.4,1239.8 741.2,1227.8 743.0,1215.7 744.8,1203.6 746.6,1191.5 748.4,1180.6 750.2,1169.7 752.1,1156.5 753.9,1143.2 755.7,1129.9 757.5,1116.6 760.6,1090.0 761.6,1054.2 764.8,1017.9 767.7,981.7 770.1,945.4 772.5,909.2 775.4,860.9 777.8,788.3 779.8,740.0 780.0,725.0 781.8,725.0 783.5,724.7 785.2,725.0 787.0,724.9 788.8,724.6 790.5,724.8 792.2,725.1 794.0,725.2 795.8,724.7 797.5,724.6 799.2,725.4 801.0,724.9 802.8,725.1 804.5,724.8 806.2,725.1 808.0,725.1 809.8,724.9 811.5,724.9 813.2,725.1 815.0,725.0 816.8,724.6 818.5,725.0 820.2,725.1 822.0,725.0 823.8,725.0 825.5,725.4 827.2,724.7 829.0,725.0 829.3,740.0 831.7,776.2 833.5,806.4 835.3,836.7 837.2,866.9 839.0,897.1 840.8,921.2 842.6,945.5 844.4,963.5 846.2,981.7 848.0,999.8 849.8,1017.9 851.7,1036.0 853.5,1054.2 855.9,1090.0 858.3,1109.3 860.7,1133.5 862.5,1146.8 864.4,1160.1 866.2,1172.2 868.0,1184.3 869.8,1194.0 871.6,1203.6 873.4,1213.3 875.2,1222.9 877.6,1232.5 880.1,1242.3 882.1,1247.9 884.1,1253.7 886.1,1259.2 888.1,1265.0 890.1,1270.4 892.1,1276.1 894.2,1280.8 896.2,1285.9 898.2,1290.6 900.0,1293.6 901.8,1296.8 903.6,1299.6 905.4,1302.6 907.3,1305.0 909.1,1307.3 910.9,1310.0 912.7,1312.3 914.5,1316.5 916.3,1320.9 918.7,1322.2 921.1,1323.4 923.2,1326.2 925.2,1328.8 927.2,1331.7 929.0,1333.2 930.8,1334.7 932.6,1336.0 934.4,1337.8 936.3,1339.0 938.1,1339.9 939.9,1341.5 941.7,1342.6 943.5,1342.1 945.3,1341.7 947.3,1343.9 949.3,1345.5 951.4,1347.5 953.2,1348.4 955.0,1349.7 956.8,1350.9 958.6,1352.2 960.4,1351.5 962.2,1351.0 964.2,1352.4 966.3,1354.5 968.3,1355.8 970.4,1356.6 972.5,1357.5 974.6,1357.7 976.7,1358.7 978.9,1359.0 981.0,1360.0 983.1,1360.0 985.2,1360.6 987.0,1361.3 988.8,1362.6 990.6,1363.2 992.4,1364.4 994.3,1364.7 996.1,1364.7 997.9,1364.5 999.7,1365.0 1001.5,1365.4 1003.3,1365.7 1005.1,1366.2 1006.9,1366.6 1008.8,1366.8 1010.6,1367.1 1012.4,1367.0 1014.2,1367.5 1016.1,1367.7 1018.1,1367.8 1020.0,1368.5 1021.9,1368.6 1023.9,1369.1 1026.3,1371.0 1028.7,1372.2 1030.5,1372.4 1032.3,1373.2 1034.1,1373.9 1036.0,1374.1 1037.8,1373.9 1039.6,1373.4 1041.4,1373.4 1043.2,1373.3 1045.1,1373.1 1046.9,1373.7 1048.8,1373.7 1050.7,1373.7 1052.5,1373.6 1054.4,1373.9 1056.5,1374.2 1058.6,1374.5 1060.7,1375.1 1062.8,1375.6 1065.3,1377.2 1067.7,1378.1 1069.7,1377.4 1071.7,1376.3 1073.7,1375.8 1075.5,1376.9 1077.3,1377.7 1079.4,1377.3 1081.4,1377.6 1083.4,1377.2 1085.8,1376.5 1088.2,1375.7 1090.0,1376.7 1091.8,1377.7 1093.7,1377.2 1095.5,1376.6 1097.3,1376.1 1099.1,1375.6 1101.5,1375.8 1103.9,1376.5 1105.7,1374.8 1107.6,1373.3 1109.6,1373.4 1111.6,1373.9 1113.6,1374.6 1115.4,1374.4 1117.2,1374.1 1119.0,1373.4 1120.8,1373.3 1123.3,1373.4 1125.7,1373.4 1128.1,1372.5 1130.5,1371.5 1132.9,1368.5 1135.3,1365.6 1137.8,1360.6 1140.2,1355.8 1142.6,1348.5 1145.0,1341.3 1146.8,1332.9 1148.6,1324.5 1150.5,1315.9 1152.3,1307.6 1154.1,1303.8 1155.9,1300.3 1157.7,1302.3 1159.5,1303.8 1161.3,1310.6 1163.1,1317.2 1165.0,1323.3 1166.8,1329.2 1168.6,1335.9 1170.4,1342.6 1172.2,1346.3 1174.0,1349.7 1176.4,1355.4 1178.9,1360.7 1181.3,1365.5 1183.7,1370.4 1186.1,1371.1 1188.5,1371.7 1190.9,1373.3 1193.4,1375.3 1195.2,1376.2 1197.0,1376.9 1198.8,1377.9 1200.6,1378.7 1202.6,1379.4 1204.6,1380.5 1206.6,1381.3 1208.7,1381.6 1210.7,1382.4 1212.7,1383.0 1214.7,1382.3 1216.7,1381.9 1218.7,1381.3 1220.5,1381.7 1222.4,1381.9 1224.2,1381.7 1226.0,1382.1 1227.8,1382.9 1229.6,1382.8 1231.5,1382.6 1233.5,1382.2 1235.4,1381.9 1237.3,1381.6 1239.3,1381.3 1241.1,1380.7 1242.9,1380.4 1244.7,1379.1 1246.5,1378.7 1248.9,1377.3 1251.4,1376.4 1253.8,1376.7 1256.2,1377.3 1258.6,1375.2 1261.0,1373.2 1263.4,1373.9 1265.9,1369.7 1268.3,1365.6 1270.3,1362.6 1272.3,1359.9 1274.3,1357.0 1276.3,1354.5 1278.3,1352.4 1280.4,1349.8 1282.8,1348.0 1285.2,1346.1 1287.6,1347.0 1290.0,1347.3 1292.4,1350.3 1294.9,1353.5 1297.3,1356.3 1299.7,1358.7 1301.5,1360.0 1303.3,1360.8 1305.1,1359.0 1306.9,1357.2 1308.8,1352.8 1310.6,1348.6 1312.4,1345.8 1314.2,1342.6 1317.1,1341.0 1320.2,1342.5 1322.7,1346.0 1325.1,1349.8 1327.5,1355.4 1329.9,1360.7 1332.3,1364.4 1334.7,1367.9 1337.2,1371.0 1339.6,1374.0 1341.4,1374.4 1343.2,1374.6 1345.1,1374.6 1347.1,1374.1 1349.0,1373.7 1350.9,1373.9 1352.9,1373.2 1354.7,1372.0 1356.5,1371.0 1358.3,1370.3 1360.1,1369.1 1362.1,1368.1 1364.1,1366.9 1366.2,1366.0 1368.6,1363.8 1371.0,1361.8 1373.0,1361.6 1375.0,1361.3 1377.0,1361.2 1379.5,1360.2 1381.9,1359.4 1383.7,1360.5 1385.5,1362.0 1387.3,1361.1 1389.1,1360.8 1390.9,1362.3 1392.7,1364.4 1394.6,1363.8 1396.4,1363.6 1398.2,1363.1 1400.0,1362.6 1401.8,1362.9 1403.6,1363.0 1405.5,1362.9 1407.3,1362.6 1409.1,1360.9 1410.9,1358.8 1412.7,1357.3 1414.5,1355.5 1416.3,1354.9 1418.1,1354.1 1420.0,1354.3 1421.8,1353.5 1423.6,1351.4 1425.4,1349.8 1427.2,1348.1 1429.0,1346.1 1431.4,1343.8 1433.9,1341.4 1435.7,1337.6 1437.5,1334.1 1439.9,1331.5 1442.3,1329.3 1444.7,1327.5 1447.1,1325.5 1449.0,1323.8 1450.8,1322.0 1452.6,1322.4 1454.4,1322.0 1456.2,1323.7 1458.0,1325.6 1459.8,1326.0 1461.6,1326.8 1464.1,1330.5 1466.5,1334.2 1468.9,1338.8 1471.3,1343.7 1473.7,1347.8 1476.1,1352.3 1478.6,1356.3 1481.0,1360.7 1483.4,1365.5 1485.8,1370.3 1487.8,1372.8 1489.8,1375.2 1491.9,1377.6 1493.9,1379.7 1495.9,1381.6 1497.9,1383.7 1499.9,1385.0 1501.9,1386.5 1503.9,1387.7 1505.8,1389.9 1507.6,1392.1 1509.4,1393.6 1511.2,1394.7 1513.0,1395.6 1514.8,1397.0 1516.8,1397.0 1518.8,1397.8 1520.9,1398.0 1522.7,1398.4 1524.5,1398.9 1526.3,1399.6 1528.1,1399.8 1530.2,1399.7 1532.3,1399.5 1534.5,1399.5 1536.6,1399.4 1538.7,1400.1 1540.8,1400.3 1542.9,1400.6 1545.0,1401.4 1547.1,1401.6 1549.3,1401.5 1551.4,1401.5 1553.5,1401.4 1555.3,1401.5 1557.2,1401.7 1559.0,1402.4 1561.0,1401.6 1562.9,1401.2 1564.8,1401.1 1566.8,1400.6 1568.7,1400.4 1570.6,1400.4 1572.6,1400.7 1574.5,1400.7 1576.5,1400.6 1578.3,1399.7 1580.1,1399.1 1581.9,1399.0 1583.7,1398.2 1585.7,1397.1 1587.7,1395.2 1589.7,1394.2 1591.6,1393.8 1593.4,1393.4 1595.8,1393.8 1598.2,1395.1 1600.0,1395.9 1601.8,1396.9 1603.6,1397.6 1605.5,1398.2 1607.5,1399.4 1609.5,1400.8 1611.5,1401.7 1613.5,1402.2 1615.6,1403.0"/>
<polyline class="c" clip-path="url(#pb)" stroke="#e8590c" points="37.3,1254.4 39.4,1254.0 41.5,1254.1 43.6,1253.8 45.7,1254.0 47.8,1253.2 49.9,1253.2 52.1,1253.0 54.2,1252.5 56.0,1252.9 57.8,1253.4 59.6,1253.5 61.4,1253.8 63.5,1252.9 65.6,1252.2 67.8,1251.7 69.9,1250.6 72.0,1250.9 74.1,1250.6 76.2,1251.1 78.3,1250.8 80.5,1250.3 82.6,1249.8 84.7,1249.6 86.8,1249.1 89.2,1248.2 91.6,1247.1 94.0,1247.4 96.5,1247.6 98.5,1246.4 100.5,1245.6 102.5,1244.7 104.5,1244.3 106.5,1244.0 108.5,1243.6 111.0,1241.4 113.4,1239.4 115.8,1238.4 118.2,1237.5 120.6,1236.2 123.1,1234.6 125.1,1231.5 127.1,1228.2 129.1,1225.3 131.5,1223.7 133.9,1221.8 135.9,1217.2 138.0,1212.8 140.0,1208.4 142.0,1203.6 144.0,1198.8 146.0,1194.0 148.4,1187.9 150.8,1181.8 153.3,1174.5 155.7,1167.3 157.5,1165.0 159.3,1162.6 162.4,1158.4 165.3,1167.3 167.2,1173.4 169.0,1179.4 170.8,1185.4 172.6,1191.6 175.0,1199.9 177.4,1208.4 179.8,1214.5 182.3,1220.5 184.3,1224.3 186.3,1227.9 188.3,1231.4 190.3,1233.8 192.3,1236.3 194.4,1238.7 196.8,1241.3 199.2,1244.1 201.2,1245.6 203.2,1247.0 205.2,1248.4 207.2,1248.8 209.3,1249.1 211.3,1249.6 213.7,1249.0 216.1,1249.1 218.1,1250.0 220.1,1251.1 222.1,1252.5 224.2,1252.3 226.2,1251.7 228.2,1251.4 230.0,1251.7 231.8,1251.9 233.6,1251.9 235.4,1252.5 237.3,1252.0 239.1,1252.2 240.9,1251.4 242.7,1251.4 244.5,1252.1 246.3,1252.5 248.1,1251.2 249.9,1249.5 252.4,1249.7 254.8,1249.9 256.8,1248.9 258.8,1247.9 260.8,1247.2 262.6,1246.1 264.4,1244.6 266.3,1241.2 268.1,1237.5 269.9,1231.4 271.7,1225.4 273.5,1216.9 275.3,1208.5 277.1,1196.3 278.9,1184.3 281.4,1160.1 283.8,1126.3 286.2,1090.0 287.4,1062.1 289.8,1013.8 292.2,953.4 294.7,892.9 297.1,844.6 298.8,808.3 300.7,789.0 302.4,779.8 304.3,789.0 306.7,798.7 307.9,820.4 310.4,856.7 312.8,905.0 315.2,953.3 317.6,1001.7 320.0,1037.9 321.8,1058.5 323.7,1079.0 325.5,1096.6 327.3,1114.2 329.7,1126.2 332.1,1138.3 334.5,1147.9 336.9,1157.7 339.4,1165.4 341.8,1173.4 344.2,1175.4 346.6,1177.1 348.6,1180.2 350.6,1183.6 352.7,1186.7 354.5,1186.4 356.3,1186.7 358.1,1187.4 359.9,1188.7 361.7,1187.4 363.5,1186.7 365.3,1183.1 367.2,1179.5 369.0,1172.1 370.8,1164.9 373.2,1143.2 375.1,1114.2 375.6,1062.1 378.0,989.6 379.7,948.5 381.2,929.2 382.9,935.3 385.3,943.7 386.5,977.5 387.7,1025.9 389.4,1086.3 389.4,1090.0 390.6,1119.0 392.5,1157.7 395.0,1186.7 397.4,1206.0 399.8,1213.9 401.6,1213.7 403.4,1212.8 405.2,1213.7 407.0,1214.5 409.5,1213.9 411.9,1212.8 413.7,1212.9 415.5,1213.0 417.3,1212.9 419.1,1213.2 421.1,1213.1 423.2,1212.7 425.2,1212.8 427.6,1213.0 430.0,1212.7 432.0,1214.2 434.0,1215.3 436.0,1216.9 438.1,1218.6 440.1,1220.3 442.1,1221.6 444.1,1221.3 446.1,1220.6 448.1,1220.4 450.5,1221.9 453.0,1222.9 455.0,1221.9 457.0,1221.5 459.0,1220.5 461.4,1220.5 463.8,1220.6 466.3,1218.9 468.7,1216.9 470.7,1215.9 472.7,1215.1 474.7,1214.4 476.5,1215.5 478.3,1216.1 480.4,1214.7 482.4,1213.2 484.4,1212.1 486.4,1211.0 488.4,1209.7 490.4,1208.4 492.2,1207.7 494.0,1207.1 495.9,1206.2 497.7,1205.4 500.1,1205.5 502.5,1206.1 504.3,1204.3 506.1,1202.2 507.9,1200.8 509.8,1198.8 511.8,1196.8 513.8,1194.5 515.8,1192.7 518.2,1189.6 520.6,1186.2 523.1,1185.7 525.5,1185.4 527.3,1185.9 529.1,1186.8 530.9,1187.1 532.7,1187.8 534.7,1190.6 536.7,1193.4 538.8,1196.4 540.6,1197.1 542.4,1198.0 544.2,1198.3 546.0,1199.1 547.8,1200.5 549.6,1201.7 551.5,1200.6 553.3,1199.2 555.1,1199.2 556.9,1198.6 558.7,1198.8 560.5,1198.4 562.3,1197.4 564.1,1196.6 566.0,1195.5 567.8,1194.5 569.6,1194.3 571.4,1194.1 573.2,1193.6 575.0,1193.4 576.8,1190.0 578.6,1186.7 580.5,1188.7 582.3,1190.4 584.3,1189.1 586.3,1188.1 588.3,1187.2 590.7,1189.4 593.1,1191.6 595.0,1193.9 596.8,1196.4 599.2,1199.0 601.6,1201.6 603.6,1203.1 605.6,1204.8 607.6,1206.4 609.5,1207.4 611.3,1208.0 613.1,1208.3 614.9,1208.9 617.0,1209.1 619.1,1209.9 621.2,1210.5 623.4,1210.9 625.5,1211.8 627.6,1213.1 629.7,1214.4 631.8,1215.8 633.7,1216.0 635.7,1216.2 637.6,1215.7 639.5,1215.8 641.5,1216.0 643.3,1215.9 645.1,1215.6 646.9,1214.7 648.7,1214.4 650.8,1213.8 653.0,1213.8 655.1,1213.4 657.2,1212.7 659.2,1209.7 661.2,1206.5 663.2,1203.5 665.6,1200.0 668.1,1196.3 671.2,1194.6 674.1,1197.5 676.1,1198.4 678.1,1199.4 680.2,1200.8 682.0,1200.0 683.8,1198.8 686.2,1195.2 688.6,1191.5 691.0,1183.0 693.4,1174.6 695.3,1166.0 697.1,1157.7 698.9,1151.1 700.7,1144.4 703.8,1138.8 706.7,1145.6 708.5,1151.7 710.4,1157.7 712.8,1165.0 715.2,1172.1 717.6,1178.2 720.0,1184.3 722.4,1188.0 724.9,1191.5 727.3,1194.6 729.7,1197.6 732.1,1197.9 734.5,1198.8 736.5,1198.5 738.6,1198.0 740.6,1197.6 743.0,1196.0 745.4,1193.8 747.8,1190.9 750.2,1187.9 752.3,1185.2 754.3,1182.1 756.3,1179.4 758.4,1174.8 760.5,1170.2 762.6,1165.9 764.7,1161.3 766.8,1153.6 768.8,1145.9 770.8,1138.3 772.6,1126.2 774.4,1114.2 777.6,1090.0 777.3,1083.2 779.8,1054.2 781.7,1018.0 783.4,981.7 784.6,945.4 785.8,897.1 786.5,848.8 787.5,788.3 788.2,740.0 788.3,725.0 790.1,725.2 791.9,724.9 793.7,725.0 795.5,725.0 797.3,725.1 799.0,725.3 800.8,725.3 802.6,724.9 804.4,724.8 806.2,725.0 808.0,725.0 808.0,740.0 808.8,788.3 810.0,848.8 811.2,897.1 811.7,933.4 813.6,957.5 816.0,981.7 818.4,1005.9 820.8,1034.9 823.3,1059.0 825.1,1068.7 826.9,1078.4 828.1,1090.0 829.9,1099.6 831.7,1109.3 834.1,1119.0 836.6,1128.7 838.6,1134.4 840.6,1140.0 842.6,1145.6 845.0,1150.4 847.4,1155.2 849.8,1154.2 852.3,1152.8 854.7,1154.5 857.1,1156.4 859.5,1162.0 861.9,1167.4 863.9,1169.9 866.0,1172.4 868.0,1174.7 870.4,1177.4 872.8,1179.9 874.6,1177.3 876.4,1175.1 878.2,1175.4 880.1,1175.8 881.9,1174.9 883.7,1174.1 886.1,1177.9 888.5,1181.8 890.9,1186.8 893.4,1191.5 895.8,1196.3 898.2,1201.2 900.0,1203.1 901.8,1205.0 903.6,1207.1 905.4,1208.9 907.5,1209.4 909.5,1210.1 911.5,1210.9 913.5,1212.4 915.5,1213.9 917.5,1215.6 919.9,1215.3 922.4,1215.2 924.2,1216.1 926.0,1216.8 927.8,1217.4 929.6,1218.2 931.5,1218.8 933.5,1218.9 935.4,1219.8 937.3,1220.0 939.3,1220.4 941.1,1220.7 942.9,1221.1 944.7,1221.3 946.5,1221.8 948.3,1221.2 950.2,1220.3 952.0,1220.0 953.8,1219.4 955.6,1220.0 957.4,1220.2 959.2,1220.5 961.0,1220.9 963.4,1221.1 965.9,1221.6 967.7,1221.2 969.5,1220.7 971.3,1220.4 973.1,1220.0 975.5,1220.1 977.9,1220.4 980.1,1220.2 982.2,1219.6 984.3,1218.9 986.4,1218.7 988.8,1218.8 991.2,1219.3 993.3,1218.3 995.3,1217.8 997.3,1216.8 999.7,1215.9 1002.1,1214.5 1004.1,1214.8 1006.1,1214.3 1008.2,1214.4 1010.2,1213.0 1012.2,1212.2 1014.2,1210.9 1016.6,1209.1 1019.0,1207.3 1021.5,1206.8 1023.9,1206.4 1025.7,1206.2 1027.5,1206.5 1029.9,1207.7 1032.3,1208.8 1034.7,1211.8 1037.2,1214.4 1039.2,1216.8 1041.2,1219.2 1043.2,1221.8 1045.0,1223.2 1046.7,1225.0 1048.5,1226.3 1050.2,1228.1 1052.0,1229.7 1053.8,1229.2 1055.6,1229.1 1057.4,1229.2 1059.2,1228.9 1061.0,1229.6 1062.8,1230.6 1064.7,1231.3 1066.5,1232.1 1068.5,1232.1 1070.5,1231.4 1072.5,1231.4 1074.5,1230.9 1076.5,1230.6 1078.5,1230.6 1080.6,1231.4 1082.6,1231.5 1084.6,1232.2 1086.4,1231.8 1088.2,1231.1 1090.0,1230.5 1091.8,1229.6 1093.7,1229.4 1095.5,1229.3 1097.3,1229.0 1099.1,1228.9 1101.5,1227.1 1103.9,1225.3 1105.7,1224.4 1107.6,1223.8 1109.4,1223.0 1111.2,1222.4 1113.2,1221.8 1115.2,1220.9 1117.2,1220.6 1119.0,1219.4 1120.8,1218.1 1122.7,1217.1 1124.5,1215.6 1126.3,1216.6 1128.1,1217.6 1129.9,1218.6 1131.7,1219.3 1133.5,1222.7 1135.3,1225.9 1137.4,1227.1 1139.4,1228.7 1141.4,1230.2 1143.4,1231.2 1145.4,1232.1 1147.4,1233.1 1149.4,1233.7 1151.5,1234.3 1153.5,1235.0 1155.9,1234.5 1158.3,1234.5 1160.3,1234.2 1162.3,1234.2 1164.4,1233.8 1166.8,1234.4 1169.2,1235.6 1171.2,1235.1 1173.2,1235.3 1175.2,1235.1 1177.2,1234.4 1179.3,1234.0 1181.3,1233.1 1183.1,1233.9 1184.9,1234.4 1186.7,1234.1 1188.5,1233.7 1190.9,1236.1 1193.4,1238.6 1195.2,1239.7 1197.0,1240.9 1198.8,1242.5 1200.6,1243.6 1202.4,1244.3 1204.2,1245.2 1206.0,1245.9 1207.9,1247.0 1209.8,1247.7 1211.7,1248.3 1213.7,1248.4 1215.6,1249.2 1217.5,1249.6 1219.5,1249.8 1221.4,1250.6 1223.3,1251.1 1225.3,1251.4 1227.2,1251.9 1229.1,1251.9 1231.1,1252.1 1233.0,1252.4 1234.9,1252.2 1236.9,1252.3 1238.8,1252.5 1240.7,1253.1 1242.7,1253.1 1244.6,1253.4 1246.5,1253.9 1248.5,1253.7 1250.4,1254.0 1252.3,1253.7 1254.3,1253.9 1256.2,1253.7 1258.0,1253.0 1259.8,1252.4 1261.8,1252.9 1263.8,1253.6 1265.9,1254.2 1267.7,1254.0 1269.5,1254.2 1271.3,1253.8 1273.1,1253.8 1274.9,1253.8 1276.7,1254.1 1278.5,1254.5 1280.4,1254.9 1282.4,1255.0 1284.4,1255.5 1286.4,1255.4 1288.4,1255.1 1290.4,1255.0 1292.4,1254.9 1294.4,1254.6 1296.3,1254.7 1298.2,1254.5 1300.2,1253.8 1302.1,1253.8 1304.2,1253.3 1306.3,1253.1 1308.5,1252.5 1310.6,1252.4 1312.4,1250.8 1314.2,1249.0 1316.6,1247.5 1319.0,1245.8 1321.0,1244.5 1323.1,1242.7 1325.1,1241.1 1327.1,1237.7 1329.1,1234.5 1331.1,1231.4 1332.9,1227.6 1334.7,1224.3 1336.6,1220.6 1338.4,1216.8 1340.2,1212.8 1342.0,1209.1 1343.8,1205.2 1345.6,1201.2 1347.6,1196.5 1349.6,1191.6 1351.7,1186.6 1353.7,1180.2 1355.7,1173.7 1357.7,1167.4 1359.7,1160.9 1361.7,1154.5 1363.7,1148.0 1366.2,1140.8 1368.6,1133.5 1370.4,1129.9 1372.2,1126.3 1374.0,1123.4 1375.8,1120.2 1379.0,1115.4 1381.0,1116.7 1383.1,1117.9 1385.5,1120.3 1387.9,1122.6 1389.7,1128.0 1391.5,1133.5 1393.4,1141.9 1395.2,1150.4 1397.6,1160.0 1400.0,1169.7 1402.4,1179.4 1404.8,1189.1 1406.9,1194.7 1408.9,1200.5 1410.9,1206.0 1412.7,1209.7 1414.5,1213.4 1416.3,1216.9 1418.1,1220.5 1420.2,1221.3 1422.2,1222.3 1424.2,1223.0 1426.0,1223.8 1427.8,1224.3 1429.6,1224.9 1431.4,1225.8 1433.4,1226.5 1435.5,1227.1 1437.5,1227.2 1439.9,1226.7 1442.3,1225.9 1444.3,1225.6 1446.3,1225.2 1448.4,1224.9 1450.2,1224.7 1452.0,1224.2 1453.8,1224.2 1455.6,1224.1 1457.6,1223.5 1459.6,1222.9 1461.6,1222.4 1463.5,1222.9 1465.3,1223.0 1467.1,1221.9 1468.9,1221.0 1470.9,1221.4 1472.9,1221.8 1474.9,1221.6 1476.8,1224.4 1478.6,1227.3 1480.4,1226.3 1482.2,1225.3 1484.6,1226.6 1487.0,1227.7 1488.8,1227.4 1490.6,1226.6 1492.5,1224.0 1494.3,1221.8 1496.7,1206.0 1498.5,1193.9 1500.3,1181.9 1502.1,1166.2 1503.9,1150.4 1505.8,1142.5 1507.6,1134.7 1509.4,1142.5 1511.2,1150.4 1513.0,1162.4 1514.8,1174.6 1516.6,1186.6 1518.4,1198.7 1520.3,1209.6 1522.1,1220.5 1524.5,1222.6 1526.9,1224.8 1528.9,1224.2 1530.9,1223.4 1532.9,1222.4 1534.8,1222.1 1536.6,1222.4 1538.4,1222.2 1540.2,1221.7 1542.0,1221.6 1543.8,1221.9 1545.6,1222.3 1547.4,1222.5 1549.9,1220.9 1552.3,1219.3 1554.7,1220.4 1557.1,1217.6 1559.5,1214.5 1561.9,1213.3 1563.8,1214.7 1565.6,1215.7 1567.7,1214.0 1569.9,1212.0 1572.1,1210.2 1574.3,1212.2 1576.5,1214.5 1578.5,1214.6 1580.5,1214.7 1582.5,1215.2 1584.3,1216.5 1586.1,1217.9 1587.9,1219.4 1589.7,1220.5 1591.6,1220.4 1593.4,1220.1 1595.8,1223.1 1598.2,1226.5 1600.0,1228.6 1601.8,1231.0 1603.6,1232.8 1605.5,1235.0 1607.9,1237.7 1610.3,1240.4 1612.1,1240.9 1613.8,1242.1 1615.6,1242.7"/>
<g fill="#111412">
<rect x="35.1" y="0" width="3.9" height="1471.8"/>
<rect x="1613" y="0" width="4.9" height="1471.8"/>
<rect x="35.1" y="0" width="1582.8" height="3.6"/>
<rect x="35.1" y="733.9" width="1582.8" height="4.9"/>
<rect x="35.1" y="1467.8" width="1582.8" height="4"/>
<rect x="178.4" y="0" width="4" height="12.5"/>
<rect x="178.4" y="725.5" width="4" height="22"/>
<rect x="178.4" y="1458" width="4" height="12"/>
<rect x="321.9" y="0" width="4" height="12.5"/>
<rect x="321.9" y="725.5" width="4" height="22"/>
<rect x="321.9" y="1458" width="4" height="12"/>
<rect x="465.4" y="0" width="4" height="12.5"/>
<rect x="465.4" y="725.5" width="4" height="22"/>
<rect x="465.4" y="1458" width="4" height="12"/>
<rect x="608.9" y="0" width="4" height="12.5"/>
<rect x="608.9" y="725.5" width="4" height="22"/>
<rect x="608.9" y="1458" width="4" height="12"/>
<rect x="752.3" y="0" width="4" height="12.5"/>
<rect x="752.3" y="725.5" width="4" height="22"/>
<rect x="752.3" y="1458" width="4" height="12"/>
<rect x="895.8" y="0" width="4" height="12.5"/>
<rect x="895.8" y="725.5" width="4" height="22"/>
<rect x="895.8" y="1458" width="4" height="12"/>
<rect x="1039.3" y="0" width="4" height="12.5"/>
<rect x="1039.3" y="725.5" width="4" height="22"/>
<rect x="1039.3" y="1458" width="4" height="12"/>
<rect x="1182.8" y="0" width="4" height="12.5"/>
<rect x="1182.8" y="725.5" width="4" height="22"/>
<rect x="1182.8" y="1458" width="4" height="12"/>
<rect x="1326.3" y="0" width="4" height="12.5"/>
<rect x="1326.3" y="725.5" width="4" height="22"/>
<rect x="1326.3" y="1458" width="4" height="12"/>
<rect x="1469.8" y="0" width="4" height="12.5"/>
<rect x="1469.8" y="725.5" width="4" height="22"/>
<rect x="1469.8" y="1458" width="4" height="12"/>
</g>
<rect x="38.3" y="3" width="51.2" height="51.2" fill="#fff" stroke="#111412" stroke-width="3"/>
<rect x="38.3" y="738" width="51.2" height="51.6" fill="#fff" stroke="#111412" stroke-width="3"/>
<text x="50.6" y="39.1" font-size="41" font-weight="bold">a</text>
<text x="108" y="47.1" font-size="41" font-weight="bold" letter-spacing="-0.7">CHA-40/41</text>
<text x="50.6" y="779" font-size="41" font-weight="bold">b</text>
<text x="110" y="783.4" font-size="41" font-weight="bold">CHA-83</text>
<text class="n" text-anchor="middle" transform="translate(148.4,209.8) scale(0.82,1)">Ilt,</text>
<text class="n" text-anchor="middle" transform="translate(148.1,244.3) scale(0.82,1)">Ms</text>
<text class="n" text-anchor="middle" transform="translate(296.4,186.3) scale(0.82,1)">Ilt,</text>
<text class="n" text-anchor="middle" transform="translate(297,220) scale(0.82,1)">Ms</text>
<text class="n" text-anchor="middle" transform="translate(369.7,306.7) scale(0.82,1)">Qz</text>
<text class="n" text-anchor="middle" transform="translate(575.2,338.6) scale(0.82,1)">Kfs</text>
<text class="n" text-anchor="middle" transform="translate(404.1,473.9) scale(0.82,1)">Kfs</text>
<text class="n" text-anchor="middle" transform="translate(693,287.3) scale(0.82,1)">Chl</text>
<text class="n" text-anchor="middle" transform="translate(845.3,36.3) scale(0.82,1)">Ilt,</text>
<text class="n" text-anchor="middle" transform="translate(845.3,70) scale(0.82,1)">Ms,</text>
<text class="n" text-anchor="middle" transform="translate(845.3,103.6) scale(0.82,1)">Qz,</text>
<text class="n" text-anchor="middle" transform="translate(845.8,137.6) scale(0.82,1)">Kfs</text>
<text class="n" text-anchor="middle" transform="translate(860.4,227.8) scale(0.82,1)">Kfs</text>
<text class="n" text-anchor="middle" transform="translate(989.1,284.7) scale(0.82,1)">Ilt,</text>
<text class="n" text-anchor="middle" transform="translate(989.5,318.5) scale(0.82,1)">Ms</text>
<text class="n" text-anchor="middle" transform="translate(1033.9,310.8) scale(0.82,1)">Ilt,</text>
<text class="n" text-anchor="middle" transform="translate(1034.5,344.3) scale(0.82,1)">Ms</text>
<text class="n" text-anchor="middle" transform="translate(1152.3,60) scale(0.82,1)">Chl</text>
<text class="n" text-anchor="middle" transform="translate(1187.3,318.3) scale(0.82,1)">Ilt,</text>
<text class="n" text-anchor="middle" transform="translate(1187.5,351.8) scale(0.82,1)">Ms</text>
<text class="n" text-anchor="middle" transform="translate(1373.8,318.6) scale(0.82,1)">Ilt,</text>
<text class="n" text-anchor="middle" transform="translate(1373.7,352.3) scale(0.82,1)">Ms</text>
<text class="n" text-anchor="middle" transform="translate(1447.8,343.3) scale(0.82,1)">Chl</text>
<text class="n" text-anchor="middle" transform="translate(1498.2,353.4) scale(0.82,1)">Chl</text>
<text class="n" text-anchor="middle" transform="translate(1587.1,628.1) scale(0.82,1)">Chl</text>
<text class="d" text-anchor="middle" transform="translate(157.3,284.7) rotate(-90) scale(0.82,1)">5.05</text>
<text class="d" text-anchor="middle" transform="translate(306,264.2) rotate(-90) scale(0.82,1)">4.53</text>
<text class="d" text-anchor="middle" transform="translate(381.1,343.7) rotate(-90) scale(0.82,1)">4.27</text>
<text class="d" text-anchor="middle" transform="translate(584.6,377) rotate(-90) scale(0.82,1)">3.81</text>
<text class="d" text-anchor="middle" transform="translate(411.9,514.2) rotate(-90) scale(0.82,1)">4.21</text>
<text class="d" text-anchor="middle" transform="translate(681,586.3) rotate(-90) scale(0.82,1)">3.57</text>
<text class="d" text-anchor="middle" transform="translate(704.6,326.1) rotate(-90) scale(0.82,1)">3.53</text>
<text class="d" text-anchor="middle" transform="translate(808.7,225.8) rotate(-90) scale(0.82,1)">3.35</text>
<text class="d" text-anchor="middle" transform="translate(866.7,260.2) rotate(-90) scale(0.82,1)">3.29</text>
<text class="d" text-anchor="middle" transform="translate(1000.9,353.6) rotate(-90) scale(0.82,1)">3.05</text>
<text class="d" text-anchor="middle" transform="translate(1042.6,377.2) rotate(-90) scale(0.82,1)">3.00</text>
<text class="d" text-anchor="middle" transform="translate(1161.6,99.4) rotate(-90) scale(0.82,1)">2.84</text>
<text class="d" text-anchor="middle" transform="translate(1196.8,385.9) rotate(-90) scale(0.82,1)">2.80</text>
<text class="d" text-anchor="middle" transform="translate(1459.2,382.1) rotate(-90) scale(0.82,1)">2.52</text>
<text class="d" text-anchor="middle" transform="translate(1508.5,385.7) rotate(-90) scale(0.82,1)">2.47</text>
<text class="d" text-anchor="middle" transform="translate(1472.2,509.5) rotate(-90) scale(0.82,1)">2.50</text>
<text class="d" text-anchor="middle" transform="translate(1607,665.6) rotate(-90) scale(0.82,1)">2.38</text>
<text class="d" text-anchor="middle" transform="translate(1373.2,384.5) scale(0.82,1)">2.58</text>
<text class="n" text-anchor="middle" transform="translate(149.5,954.1) scale(0.82,1)">Ilt,</text>
<text class="n" text-anchor="middle" transform="translate(149.5,987.8) scale(0.82,1)">Ms</text>
<text class="n" text-anchor="middle" transform="translate(262.7,848.9) scale(0.82,1)">Ilt,</text>
<text class="n" text-anchor="middle" transform="translate(262.3,882.5) scale(0.82,1)">Ms</text>
<text class="n" text-anchor="middle" transform="translate(377.7,854.4) scale(0.82,1)">Qz</text>
<text class="n" text-anchor="middle" transform="translate(603.8,1093.7) scale(0.82,1)">Ilt,</text>
<text class="n" text-anchor="middle" transform="translate(604,1127.5) scale(0.82,1)">Ms</text>
<text class="n" text-anchor="middle" transform="translate(564.1,1286) scale(0.82,1)">Kfs</text>
<text class="n" text-anchor="middle" transform="translate(702,1068.3) scale(0.82,1)">Chl</text>
<text class="n" text-anchor="middle" transform="translate(867.8,774.5) scale(0.82,1)">Ilt,</text>
<text class="n" text-anchor="middle" transform="translate(868,808.4) scale(0.82,1)">Ms,</text>
<text class="n" text-anchor="middle" transform="translate(868,842.6) scale(0.82,1)">Qz,</text>
<text class="n" text-anchor="middle" transform="translate(868.1,876.7) scale(0.82,1)">Kfs</text>
<text class="n" text-anchor="middle" transform="translate(879.6,1060.3) scale(0.82,1)">Kfs</text>
<text class="n" text-anchor="middle" transform="translate(929.8,1088.9) scale(0.82,1)">Ilt,</text>
<text class="n" text-anchor="middle" transform="translate(929.3,1122.7) scale(0.82,1)">Ms</text>
<text class="n" text-anchor="middle" transform="translate(1028.1,1097.3) scale(0.82,1)">Ilt,</text>
<text class="n" text-anchor="middle" transform="translate(1028,1131) scale(0.82,1)">Ms</text>
<text class="n" text-anchor="middle" transform="translate(1126.2,1151.7) scale(0.82,1)">Kfs</text>
<text class="n" text-anchor="middle" transform="translate(1189.5,1136.1) scale(0.82,1)">Ilt,</text>
<text class="n" text-anchor="middle" transform="translate(1189.3,1169.8) scale(0.82,1)">Ms</text>
<text class="n" text-anchor="middle" transform="translate(1113.4,1276.8) scale(0.82,1)">Chl</text>
<text class="n" text-anchor="middle" transform="translate(1378.1,1029.7) scale(0.82,1)">Ilt,</text>
<text class="n" text-anchor="middle" transform="translate(1378,1064.1) scale(0.82,1)">Ms</text>
<text class="n" text-anchor="middle" transform="translate(1502.7,1067.3) scale(0.82,1)">Chl</text>
<text class="n" text-anchor="middle" transform="translate(1573.8,1141.9) scale(0.82,1)">Chl</text>
<text class="n" text-anchor="middle" transform="translate(1454.4,1264.6) scale(0.82,1)">Chl</text>
<text class="d" text-anchor="middle" transform="translate(157.3,1028.8) rotate(-90) scale(0.82,1)">5.03</text>
<text class="d" text-anchor="middle" transform="translate(313.3,1162) rotate(-90) scale(0.82,1)">4.51</text>
<text class="d" text-anchor="middle" transform="translate(389.4,895.5) rotate(-90) scale(0.82,1)">4.27</text>
<text class="d" text-anchor="middle" transform="translate(604.9,1163) rotate(-90) scale(0.82,1)">3.75</text>
<text class="d" text-anchor="middle" transform="translate(681.5,1160) rotate(-90) scale(0.82,1)">3.60</text>
<text class="d" text-anchor="middle" transform="translate(581.5,1329) rotate(-90) scale(0.82,1)">3.80</text>
<text class="d" text-anchor="middle" transform="translate(710,1109) rotate(-90) scale(0.82,1)">3.52</text>
<text class="d" text-anchor="middle" transform="translate(808.7,1034.3) rotate(-90) scale(0.82,1)">3.35</text>
<text class="d" text-anchor="middle" transform="translate(860.2,1120) rotate(-90) scale(0.82,1)">3.26</text>
<text class="d" text-anchor="middle" transform="translate(898.6,1142.6) rotate(-90) scale(0.82,1)">3.21</text>
<text class="d" text-anchor="middle" transform="translate(1037.9,1167.5) rotate(-90) scale(0.82,1)">3.00</text>
<text class="d" text-anchor="middle" transform="translate(1138.7,1183.1) rotate(-90) scale(0.82,1)">2.87</text>
<text class="d" text-anchor="middle" transform="translate(1196.8,1199.2) rotate(-90) scale(0.82,1)">2.80</text>
<text class="d" text-anchor="middle" transform="translate(1165.9,1266.5) rotate(-90) scale(0.82,1)">2.83</text>
<text class="d" text-anchor="middle" transform="translate(1518.4,1101.6) rotate(-90) scale(0.82,1)">2.46</text>
<text class="d" text-anchor="middle" transform="translate(1584.2,1178.8) rotate(-90) scale(0.82,1)">2.40</text>
<text class="d" text-anchor="middle" transform="translate(1465.8,1293.6) rotate(-90) scale(0.82,1)">2.51</text>
<text class="d" text-anchor="middle" transform="translate(1378.8,1098.4) scale(0.82,1)">2.58</text>
<text x="1131.5" y="787.9" font-size="34.2" font-weight="bold" style="fill:#e8590c">&lt;2.0 µm</text>
<text x="1131.5" y="818.4" font-size="34.2" font-weight="bold" style="fill:#0b9e3a">&lt;0.2 µm</text>
<text x="1131.5" y="848.8" font-size="34.2" font-weight="bold" style="fill:#8a2bb0">&lt;0.1 µm</text>
<text x="1495.5" y="786.4" font-size="34.2">2.58 Å</text>
<text x="1495.5" y="818" font-size="34.2">2<tspan font-style="italic">M</tspan><tspan font-size="19" dy="0.5" dx="-1">1</tspan></text>
<text x="1495.5" y="849.5" font-size="34.2">1<tspan font-style="italic">M</tspan></text>
<line class="v" x1="1310" y1="775.5" x2="1482.6" y2="775.5" stroke-dasharray="2 15.25"/>
<line class="v" x1="1311.3" y1="807.4" x2="1482.6" y2="807.4" stroke-dasharray="18 15.5 2 13.7 2 16.5"/>
<line class="v" x1="1311.3" y1="838.9" x2="1482.6" y2="838.9" stroke-dasharray="18 15.7 2 15.7"/>
<text font-size="34.1" transform="translate(25.6,870.6) rotate(-90)">Relative Intensity</text>
<text font-size="33.75" font-style="italic" transform="translate(1628.7,272.6) rotate(90)">Bond Formation</text>
<text font-size="33.5" font-style="italic" transform="translate(1628.5,956) rotate(90)">Shelburn Formation</text>
<text x="741.5" y="1576.1" font-size="41.2"><tspan font-weight="bold">°2θ</tspan> (Cu-Kα)</text>
<text class="t" text-anchor="middle" transform="translate(40.3,1512.8) scale(0.78,1)">16</text>
<text class="t" text-anchor="middle" transform="translate(185.2,1512.8) scale(0.78,1)">18</text>
<text class="t" text-anchor="middle" transform="translate(329.2,1512.8) scale(0.78,1)">20</text>
<text class="t" text-anchor="middle" transform="translate(466.5,1512.8) scale(0.78,1)">22</text>
<text class="t" text-anchor="middle" transform="translate(610.1,1512.8) scale(0.78,1)">24</text>
<text class="t" text-anchor="middle" transform="translate(755,1512.8) scale(0.78,1)">26</text>
<text class="t" text-anchor="middle" transform="translate(900.1,1512.8) scale(0.78,1)">28</text>
<text class="t" text-anchor="middle" transform="translate(1039.2,1512.8) scale(0.78,1)">30</text>
<text class="t" text-anchor="middle" transform="translate(1187.1,1512.8) scale(0.78,1)">32</text>
<text class="t" text-anchor="middle" transform="translate(1330,1512.8) scale(0.78,1)">34</text>
<text class="t" text-anchor="middle" transform="translate(1472.8,1512.8) scale(0.78,1)">36</text>
<text class="t" text-anchor="middle" transform="translate(1616.1,1512.8) scale(0.78,1)">38</text>
</svg></body></html>
